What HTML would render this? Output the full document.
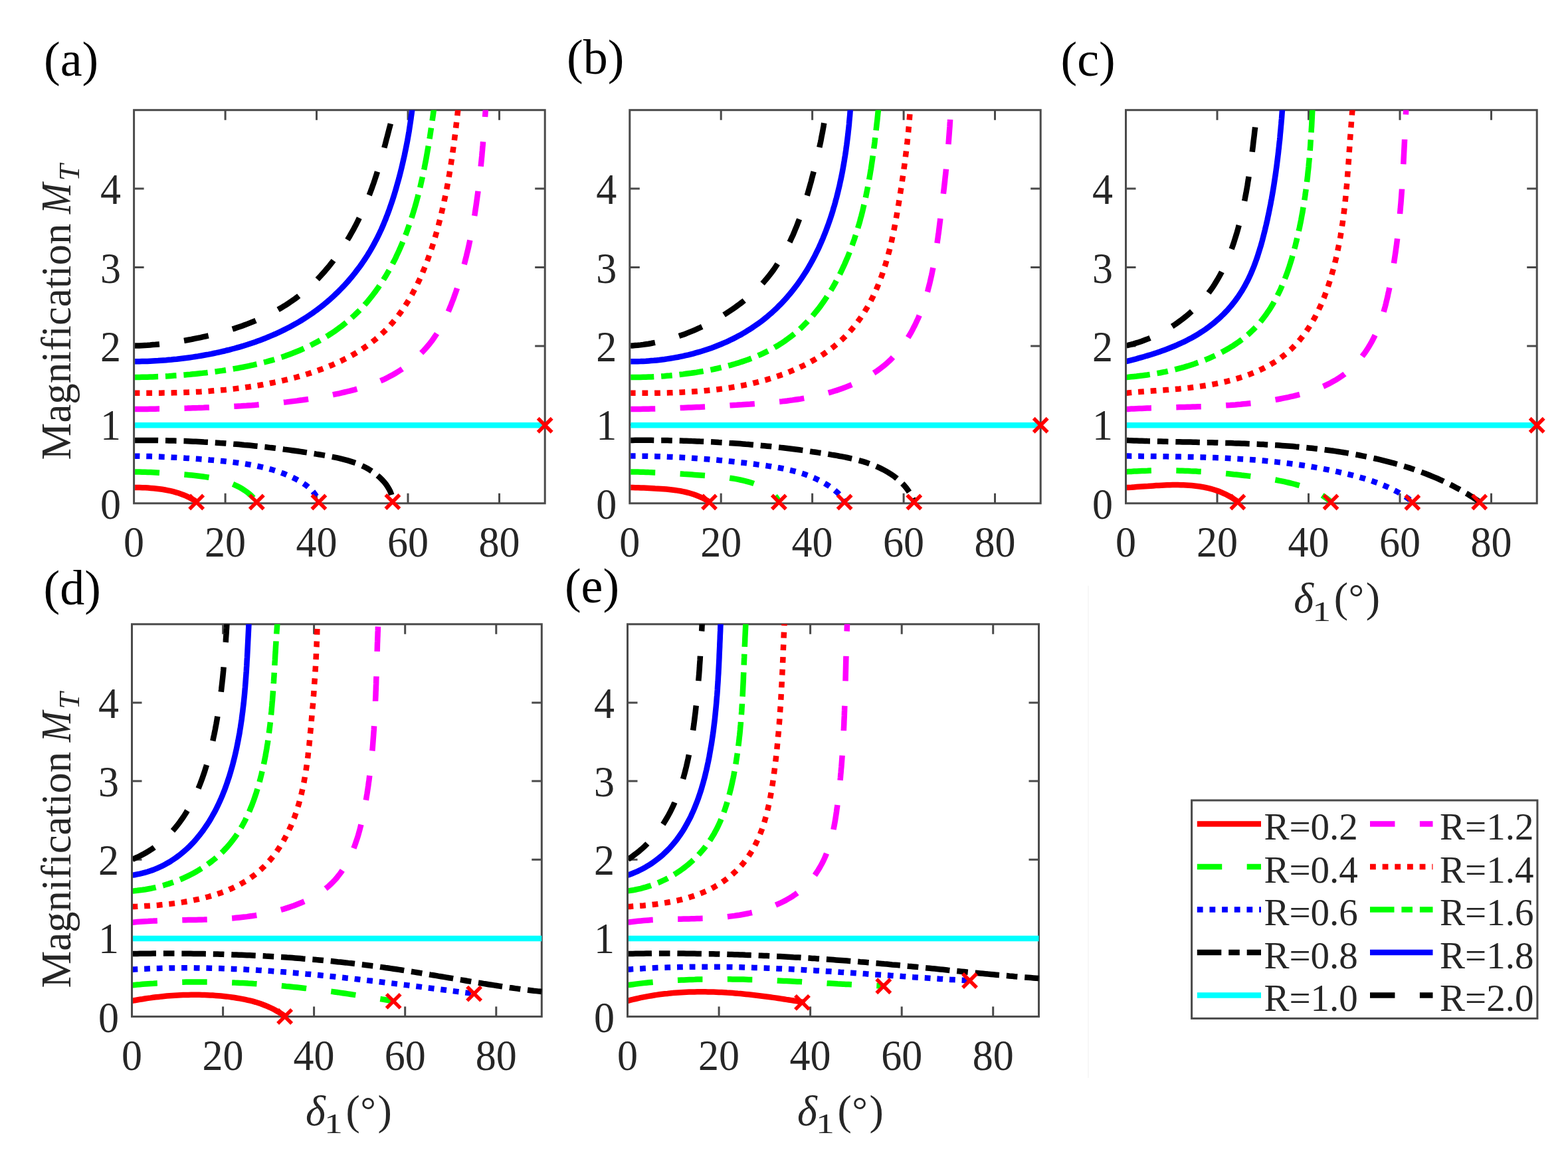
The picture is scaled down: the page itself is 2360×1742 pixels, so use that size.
<!DOCTYPE html>
<html><head><meta charset="utf-8"><title>Magnification vs delta1</title>
<style>html,body{margin:0;padding:0;background:#fff;width:2360px;height:1742px;overflow:hidden}svg{display:block}text{font-family:"Liberation Serif","Times New Roman",serif}</style>
</head><body>
<svg width="2360" height="1742" viewBox="0 0 2360 1742">
<rect width="2360" height="1742" fill="#fff"/>
<path d="M1638 882V1623" stroke="#f4f4f4" stroke-width="1.5"/>
<clipPath id="clipa"><rect x="203.1" y="165.7" width="623.1" height="604.1"/></clipPath>
<rect x="201.6" y="165.7" width="618.6" height="592.1" fill="none" stroke="#4a4a4a" stroke-width="3"/>
<path d="M339.1 757.8V742.8M339.1 165.7V180.7M476.5 757.8V742.8M476.5 165.7V180.7M614 757.8V742.8M614 165.7V180.7M751.5 757.8V742.8M751.5 165.7V180.7M201.6 639.4H216.6M820.2 639.4H805.2M201.6 521H216.6M820.2 521H805.2M201.6 402.5H216.6M820.2 402.5H805.2M201.6 284.1H216.6M820.2 284.1H805.2" stroke="#4a4a4a" stroke-width="3" fill="none"/>
<g clip-path="url(#clipa)" fill="none" stroke-width="8.5" stroke-linejoin="miter">
<path d="M201.6 734.1L205.9 734.1L210.1 734.1L214.4 734.2L218.6 734.3L222.9 734.6L227.1 734.9L231.4 735.2L235.6 735.7L239.9 736.2L244.1 736.8L248.3 737.5L252.5 738.3L256.6 739.2L260.8 740.2L264.9 741.3L269.0 742.5L273.0 743.9L277.0 745.4L280.9 747.1L284.7 749.0L288.5 751.0L292.2 753.1L295.7 755.5" stroke="#ff0000" stroke-linecap="round"/>
<path d="M201.6 710.4L205.8 710.5L209.9 710.5L214.1 710.7L218.3 710.8L222.4 710.9L226.6 711.1L230.8 711.3L234.9 711.5L239.1 711.7L243.3 712.0L247.4 712.2L251.6 712.5L255.7 712.8L259.9 713.1L264.0 713.4L268.2 713.8L272.4 714.1L276.5 714.5L280.7 714.8L284.8 715.2L289.0 715.6L293.1 716.0L297.3 716.5L301.4 717.0L305.5 717.5L309.7 718.1L313.8 718.8L317.9 719.5L322.0 720.3L326.0 721.2L330.1 722.1L334.1 723.2L338.1 724.4L342.1 725.7L346.0 727.1L349.9 728.6L353.7 730.3L357.5 732.1L361.2 734.0L364.8 736.1L368.3 738.4L371.7 740.8L374.9 743.4L378.1 746.1L381.0 749.1L383.8 752.2L386.3 755.5" stroke="#00ff00" stroke-dasharray="37.45 37.45" stroke-dashoffset="-1"/>
<path d="M201.6 686.6L205.7 686.7L209.8 686.7L213.8 686.8L217.9 686.9L222.0 687.0L226.1 687.1L230.2 687.2L234.2 687.4L238.3 687.5L242.4 687.7L246.5 687.9L250.5 688.0L254.6 688.2L258.7 688.5L262.8 688.7L266.8 688.9L270.9 689.1L275.0 689.4L279.1 689.7L283.1 689.9L287.2 690.2L291.3 690.5L295.3 690.8L299.4 691.1L303.5 691.5L307.5 691.8L311.6 692.1L315.7 692.5L319.7 692.8L323.8 693.2L327.9 693.5L331.9 693.9L336.0 694.3L340.0 694.7L344.1 695.2L348.2 695.6L352.2 696.1L356.3 696.6L360.3 697.2L364.3 697.7L368.4 698.3L372.4 699.0L376.4 699.6L380.4 700.4L384.5 701.1L388.4 702.0L392.4 702.8L396.4 703.7L400.4 704.7L404.3 705.7L408.3 706.8L412.2 708.0L416.1 709.2L419.9 710.5L423.8 711.9L427.6 713.3L431.4 714.9L435.1 716.5L438.8 718.1L442.5 719.9L446.2 721.8L449.7 723.7L453.3 725.7L456.7 727.9L460.1 730.2L463.3 732.7L466.4 735.4L469.3 738.2L472.0 741.3L474.4 744.6L476.6 748.1L478.4 751.7L479.9 755.5" stroke="#0000ff" stroke-dasharray="8.8 9.86"/>
<path d="M201.6 662.9L205.7 662.9L209.7 662.9L213.8 662.9L217.8 662.9L221.9 662.9L225.9 662.9L230.0 663.0L234.0 663.0L238.1 663.1L242.1 663.1L246.2 663.2L250.2 663.3L254.3 663.4L258.3 663.5L262.4 663.6L266.4 663.7L270.5 663.9L274.5 664.0L278.6 664.1L282.6 664.3L286.7 664.5L290.7 664.7L294.8 664.8L298.8 665.0L302.9 665.2L306.9 665.5L311.0 665.7L315.0 665.9L319.1 666.2L323.1 666.4L327.2 666.7L331.2 667.0L335.3 667.2L339.3 667.5L343.3 667.8L347.4 668.1L351.4 668.5L355.5 668.8L359.5 669.1L363.5 669.5L367.6 669.9L371.6 670.2L375.7 670.6L379.7 671.0L383.7 671.4L387.8 671.8L391.8 672.3L395.8 672.7L399.8 673.1L403.9 673.6L407.9 674.1L411.9 674.5L415.9 675.0L420.0 675.5L424.0 676.0L428.0 676.6L432.0 677.1L436.0 677.6L440.1 678.2L444.1 678.7L448.1 679.3L452.1 679.9L456.1 680.5L460.1 681.1L464.1 681.7L468.1 682.3L472.1 682.9L476.1 683.6L480.1 684.2L484.1 684.9L488.1 685.6L492.1 686.3L496.1 687.0L500.1 687.8L504.1 688.6L508.0 689.4L512.0 690.3L515.9 691.3L519.8 692.3L523.7 693.4L527.6 694.6L531.5 695.9L535.3 697.2L539.1 698.7L542.8 700.3L546.5 702.0L550.1 703.8L553.7 705.7L557.1 707.8L560.5 710.0L563.8 712.4L567.0 714.9L570.1 717.5L573.1 720.3L575.9 723.2L578.6 726.2L581.1 729.4L583.4 732.7L585.5 736.2L587.3 739.8L588.8 743.6L589.9 747.5L590.7 751.5L591.0 755.5" stroke="#000000" stroke-dasharray="36.5 10.9 16.6 10.9"/>
<path d="M201.6 640.2L820.2 640.2" stroke="#00ffff"/>
<path d="M201.6 616.1L205.6 616.1L209.7 616.0L213.7 616.0L217.7 616.0L221.8 615.9L225.8 615.8L229.8 615.8L233.9 615.7L237.9 615.6L241.9 615.6L246.0 615.5L250.0 615.4L254.0 615.3L258.1 615.2L262.1 615.1L266.1 615.0L270.1 614.9L274.2 614.8L278.2 614.7L282.2 614.6L286.3 614.4L290.3 614.3L294.3 614.2L298.4 614.1L302.4 613.9L306.4 613.8L310.5 613.6L314.5 613.5L318.5 613.3L322.5 613.2L326.6 613.0L330.6 612.8L334.6 612.7L338.7 612.5L342.7 612.3L346.7 612.1L350.7 611.9L354.8 611.7L358.8 611.4L362.8 611.2L366.8 610.9L370.9 610.7L374.9 610.4L378.9 610.2L382.9 609.9L387.0 609.6L391.0 609.2L395.0 608.9L399.0 608.6L403.0 608.2L407.1 607.9L411.1 607.5L415.1 607.1L419.1 606.7L423.1 606.3L427.1 605.8L431.1 605.4L435.1 604.9L439.1 604.4L443.1 603.9L447.1 603.4L451.1 602.8L455.1 602.3L459.1 601.7L463.1 601.1L467.1 600.5L471.1 599.8L475.0 599.2L479.0 598.5L483.0 597.8L487.0 597.1L490.9 596.3L494.9 595.6L498.8 594.8L502.8 593.9L506.7 593.1L510.7 592.3L514.6 591.4L518.5 590.5L522.5 589.5L526.4 588.6L530.3 587.6L534.2 586.6L538.1 585.5L542.0 584.4L545.8 583.2L549.7 582.0L553.5 580.8L557.3 579.5L561.1 578.1L564.9 576.7L568.6 575.2L572.3 573.6L576.0 572.0L579.7 570.3L583.3 568.5L586.9 566.6L590.4 564.7L593.9 562.7L597.4 560.6L600.8 558.5L604.2 556.3L607.5 554.0L610.8 551.6L614.0 549.2L617.2 546.8L620.3 544.2L623.4 541.6L626.4 538.9L629.4 536.2L632.3 533.4L635.1 530.5L637.9 527.6L640.6 524.6L643.2 521.6L645.8 518.5L648.3 515.3L650.8 512.1L653.1 508.8L655.4 505.5L657.6 502.1L659.8 498.7L661.8 495.2L663.8 491.7L665.7 488.2L667.6 484.6L669.3 481.0L671.1 477.3L672.7 473.7L674.4 470.0L675.9 466.3L677.5 462.5L679.0 458.8L680.4 455.0L681.9 451.3L683.3 447.5L684.6 443.7L686.0 439.9L687.3 436.1L688.6 432.2L689.8 428.4L691.0 424.6L692.2 420.7L693.4 416.9L694.6 413.0L695.7 409.1L696.8 405.2L697.9 401.3L698.9 397.5L699.9 393.6L700.9 389.6L701.9 385.7L702.8 381.8L703.8 377.9L704.7 374.0L705.6 370.0L706.4 366.1L707.3 362.1L708.1 358.2L708.9 354.2L709.6 350.3L710.4 346.3L711.1 342.4L711.9 338.4L712.6 334.4L713.2 330.4L713.9 326.5L714.6 322.5L715.2 318.5L715.8 314.5L716.4 310.5L717.0 306.5L717.5 302.5L718.1 298.5L718.6 294.5L719.2 290.5L719.7 286.5L720.2 282.5L720.7 278.5L721.1 274.5L721.6 270.5L722.0 266.5L722.5 262.5L722.9 258.5L723.3 254.5L723.7 250.5L724.1 246.5L724.5 242.5L724.9 238.4L725.3 234.4L725.6 230.4L726.0 226.4L726.3 222.4L726.7 218.4L727.0 214.3L727.4 210.3L727.7 206.3L728.0 202.3L728.3 198.3L728.7 194.2L729.0 190.2L729.3 186.2L729.6 182.2L729.9 178.2L730.2 174.1L730.5 170.1L730.8 166.1L731.1 162.1L731.4 158.0L731.7 154.0L732.0 150.0" stroke="#ff00ff" stroke-dasharray="37.45 37.45" stroke-dashoffset="-1"/>
<path d="M201.6 591.8L205.6 591.8L209.7 591.8L213.7 591.8L217.7 591.8L221.8 591.8L225.8 591.8L229.8 591.8L233.9 591.8L237.9 591.7L242.0 591.7L246.0 591.6L250.0 591.6L254.1 591.5L258.1 591.4L262.1 591.3L266.2 591.2L270.2 591.1L274.2 591.0L278.3 590.8L282.3 590.7L286.3 590.5L290.4 590.3L294.4 590.1L298.4 589.9L302.4 589.7L306.5 589.4L310.5 589.2L314.5 588.9L318.5 588.6L322.6 588.3L326.6 588.0L330.6 587.6L334.6 587.2L338.6 586.9L342.7 586.5L346.7 586.0L350.7 585.6L354.7 585.1L358.7 584.6L362.7 584.1L366.7 583.6L370.7 583.0L374.7 582.5L378.7 581.9L382.7 581.3L386.7 580.6L390.6 580.0L394.6 579.3L398.6 578.5L402.5 577.8L406.5 577.0L410.5 576.3L414.4 575.4L418.4 574.6L422.3 573.7L426.2 572.8L430.2 571.9L434.1 571.0L438.0 570.0L441.9 569.0L445.8 568.0L449.7 566.9L453.6 565.8L457.5 564.7L461.3 563.5L465.2 562.3L469.0 561.0L472.8 559.8L476.7 558.5L480.5 557.1L484.3 555.7L488.0 554.3L491.8 552.8L495.5 551.3L499.3 549.8L503.0 548.2L506.6 546.5L510.3 544.8L514.0 543.1L517.6 541.3L521.2 539.5L524.7 537.6L528.3 535.7L531.8 533.7L535.3 531.7L538.8 529.6L542.2 527.5L545.6 525.3L548.9 523.0L552.2 520.7L555.5 518.4L558.7 516.0L561.9 513.5L565.1 511.0L568.2 508.4L571.2 505.7L574.2 503.0L577.1 500.3L580.0 497.4L582.9 494.6L585.6 491.6L588.3 488.6L591.0 485.6L593.6 482.5L596.1 479.4L598.6 476.2L601.0 473.0L603.4 469.7L605.7 466.4L608.0 463.1L610.2 459.7L612.4 456.3L614.5 452.9L616.6 449.4L618.6 445.9L620.6 442.4L622.5 438.8L624.4 435.3L626.2 431.7L628.0 428.1L629.8 424.4L631.5 420.8L633.1 417.1L634.8 413.4L636.3 409.7L637.9 406.0L639.4 402.2L640.9 398.5L642.4 394.7L643.8 390.9L645.1 387.1L646.5 383.3L647.8 379.5L649.1 375.7L650.4 371.9L651.6 368.0L652.8 364.2L654.0 360.3L655.1 356.4L656.2 352.6L657.3 348.7L658.4 344.8L659.5 340.9L660.5 337.0L661.5 333.1L662.5 329.2L663.5 325.3L664.4 321.3L665.3 317.4L666.2 313.5L667.1 309.5L668.0 305.6L668.8 301.7L669.7 297.7L670.5 293.8L671.3 289.8L672.1 285.8L672.8 281.9L673.6 277.9L674.3 273.9L675.0 270.0L675.7 266.0L676.4 262.0L677.0 258.0L677.7 254.0L678.3 250.1L678.9 246.1L679.5 242.1L680.1 238.1L680.7 234.1L681.3 230.1L681.8 226.1L682.4 222.1L682.9 218.1L683.5 214.1L684.0 210.1L684.5 206.1L685.0 202.1L685.5 198.1L686.0 194.1L686.4 190.1L686.9 186.1L687.4 182.1L687.9 178.1L688.3 174.1L688.8 170.1L689.2 166.0L689.7 162.0L690.1 158.0L690.6 154.0L691.0 150.0" stroke="#ff0000" stroke-dasharray="8.8 9.86"/>
<path d="M201.6 568.0L205.6 568.0L209.7 567.9L213.7 567.8L217.7 567.8L221.8 567.7L225.8 567.5L229.8 567.4L233.9 567.2L237.9 567.0L241.9 566.9L246.0 566.6L250.0 566.4L254.0 566.2L258.0 565.9L262.1 565.6L266.1 565.4L270.1 565.0L274.1 564.7L278.2 564.4L282.2 564.0L286.2 563.7L290.2 563.3L294.2 562.9L298.3 562.5L302.3 562.1L306.3 561.6L310.3 561.2L314.3 560.7L318.3 560.2L322.3 559.7L326.3 559.2L330.3 558.6L334.3 558.1L338.3 557.5L342.3 556.9L346.3 556.2L350.2 555.6L354.2 554.9L358.2 554.2L362.2 553.4L366.1 552.7L370.1 551.9L374.0 551.1L378.0 550.2L381.9 549.4L385.9 548.4L389.8 547.5L393.7 546.5L397.6 545.5L401.5 544.5L405.4 543.4L409.3 542.3L413.1 541.2L417.0 540.0L420.8 538.7L424.7 537.5L428.5 536.2L432.3 534.8L436.1 533.4L439.9 532.0L443.6 530.5L447.4 529.0L451.1 527.5L454.8 525.9L458.5 524.2L462.1 522.5L465.8 520.8L469.4 519.0L473.0 517.1L476.5 515.2L480.1 513.3L483.6 511.3L487.1 509.3L490.5 507.2L494.0 505.1L497.4 502.9L500.7 500.7L504.1 498.4L507.4 496.1L510.6 493.7L513.8 491.3L517.0 488.8L520.2 486.3L523.3 483.7L526.4 481.1L529.4 478.4L532.4 475.7L535.3 472.9L538.2 470.1L541.1 467.3L543.9 464.4L546.6 461.4L549.3 458.4L552.0 455.4L554.6 452.3L557.1 449.2L559.7 446.0L562.1 442.8L564.5 439.6L566.9 436.3L569.3 433.0L571.5 429.7L573.8 426.4L576.0 423.0L578.1 419.6L580.3 416.1L582.3 412.7L584.3 409.2L586.3 405.7L588.3 402.1L590.2 398.6L592.0 395.0L593.9 391.4L595.7 387.8L597.4 384.1L599.1 380.5L600.8 376.8L602.4 373.1L604.0 369.4L605.6 365.7L607.1 362.0L608.7 358.2L610.1 354.5L611.6 350.7L613.0 346.9L614.3 343.1L615.7 339.3L617.0 335.5L618.3 331.7L619.5 327.8L620.8 324.0L622.0 320.1L623.1 316.3L624.3 312.4L625.4 308.5L626.5 304.6L627.5 300.8L628.6 296.9L629.6 293.0L630.6 289.0L631.6 285.1L632.5 281.2L633.4 277.3L634.3 273.3L635.2 269.4L636.1 265.5L636.9 261.5L637.7 257.6L638.6 253.6L639.3 249.7L640.1 245.7L640.9 241.7L641.6 237.8L642.3 233.8L643.0 229.8L643.7 225.8L644.4 221.9L645.1 217.9L645.7 213.9L646.3 209.9L647.0 205.9L647.6 201.9L648.2 197.9L648.8 194.0L649.4 190.0L650.0 186.0L650.6 182.0L651.1 178.0L651.7 174.0L652.3 170.0L652.8 166.0L653.4 162.0L653.9 158.0L654.5 154.0L655.0 150.0" stroke="#00ff00" stroke-dasharray="36.5 10.9 16.6 10.9"/>
<path d="M201.6 544.3L205.6 544.3L209.7 544.2L213.7 544.1L217.7 544.0L221.8 543.9L225.8 543.7L229.8 543.5L233.9 543.3L237.9 543.1L241.9 542.8L245.9 542.5L250.0 542.2L254.0 541.8L258.0 541.5L262.0 541.1L266.0 540.7L270.0 540.2L274.0 539.7L278.1 539.2L282.1 538.7L286.0 538.2L290.0 537.6L294.0 537.0L298.0 536.4L302.0 535.7L306.0 535.0L309.9 534.3L313.9 533.6L317.9 532.8L321.8 532.0L325.8 531.2L329.7 530.3L333.7 529.4L337.6 528.5L341.5 527.5L345.4 526.6L349.3 525.5L353.2 524.5L357.1 523.4L361.0 522.3L364.9 521.2L368.7 520.0L372.6 518.8L376.4 517.5L380.2 516.2L384.0 514.9L387.8 513.5L391.6 512.2L395.4 510.7L399.2 509.3L402.9 507.7L406.6 506.2L410.3 504.6L414.0 503.0L417.7 501.3L421.4 499.6L425.0 497.9L428.6 496.1L432.2 494.3L435.8 492.4L439.4 490.5L442.9 488.6L446.4 486.6L449.9 484.6L453.4 482.5L456.8 480.4L460.2 478.2L463.6 476.0L466.9 473.8L470.3 471.5L473.5 469.1L476.8 466.8L480.0 464.3L483.2 461.9L486.4 459.4L489.5 456.8L492.6 454.2L495.7 451.6L498.7 448.9L501.7 446.2L504.6 443.4L507.5 440.6L510.4 437.8L513.2 434.9L516.0 432.0L518.8 429.1L521.5 426.1L524.2 423.1L526.8 420.0L529.4 416.9L531.9 413.8L534.5 410.6L536.9 407.4L539.4 404.2L541.8 401.0L544.1 397.7L546.4 394.4L548.7 391.0L550.9 387.7L553.1 384.3L555.2 380.8L557.3 377.4L559.3 373.9L561.3 370.4L563.2 366.9L565.1 363.3L567.0 359.7L568.8 356.1L570.6 352.5L572.3 348.8L574.0 345.2L575.6 341.5L577.2 337.8L578.7 334.0L580.3 330.3L581.7 326.5L583.2 322.8L584.6 319.0L586.0 315.2L587.3 311.4L588.6 307.6L589.9 303.8L591.2 299.9L592.4 296.1L593.6 292.2L594.8 288.4L595.9 284.5L597.0 280.6L598.1 276.7L599.2 272.9L600.3 269.0L601.3 265.1L602.3 261.2L603.3 257.2L604.3 253.3L605.2 249.4L606.1 245.5L607.0 241.5L607.9 237.6L608.8 233.7L609.6 229.7L610.4 225.8L611.2 221.8L612.0 217.8L612.8 213.9L613.5 209.9L614.2 205.9L614.9 202.0L615.6 198.0L616.2 194.0L616.8 190.0L617.4 186.0L618.0 182.0L618.6 178.0L619.1 174.0L619.7 170.0L620.2 166.0L620.7 162.0L621.1 158.0L621.6 154.0L622.0 150.0" stroke="#0000ff" stroke-linecap="round"/>
<path d="M201.6 520.6L205.7 520.5L209.7 520.4L213.8 520.2L217.8 520.0L221.8 519.8L225.9 519.5L229.9 519.1L234.0 518.8L238.0 518.4L242.0 518.0L246.1 517.5L250.1 517.0L254.1 516.5L258.1 515.9L262.1 515.3L266.1 514.7L270.1 514.1L274.1 513.4L278.1 512.7L282.1 512.0L286.1 511.3L290.1 510.5L294.0 509.7L298.0 508.9L302.0 508.1L305.9 507.2L309.9 506.3L313.8 505.4L317.8 504.5L321.7 503.5L325.6 502.5L329.6 501.5L333.5 500.4L337.4 499.3L341.3 498.2L345.1 497.0L349.0 495.8L352.9 494.6L356.7 493.3L360.6 492.0L364.4 490.7L368.2 489.3L372.0 487.9L375.8 486.4L379.5 484.9L383.3 483.4L387.0 481.8L390.7 480.2L394.4 478.5L398.1 476.8L401.8 475.0L405.4 473.2L409.0 471.4L412.6 469.5L416.1 467.5L419.7 465.5L423.2 463.5L426.6 461.4L430.1 459.3L433.5 457.1L436.9 454.8L440.2 452.5L443.5 450.2L446.8 447.8L450.0 445.3L453.2 442.8L456.3 440.3L459.4 437.7L462.5 435.0L465.5 432.3L468.5 429.6L471.4 426.8L474.3 423.9L477.2 421.1L480.0 418.1L482.8 415.2L485.5 412.2L488.2 409.2L490.8 406.1L493.4 403.0L496.0 399.9L498.5 396.7L501.0 393.5L503.4 390.2L505.9 387.0L508.2 383.7L510.5 380.4L512.8 377.0L515.1 373.7L517.3 370.3L519.5 366.9L521.6 363.4L523.7 359.9L525.8 356.5L527.8 352.9L529.8 349.4L531.8 345.9L533.7 342.3L535.6 338.7L537.4 335.1L539.2 331.5L541.0 327.8L542.7 324.2L544.5 320.5L546.1 316.8L547.8 313.1L549.4 309.4L551.0 305.7L552.5 301.9L554.0 298.2L555.5 294.4L557.0 290.6L558.4 286.8L559.8 283.0L561.1 279.2L562.5 275.4L563.8 271.5L565.0 267.7L566.3 263.8L567.5 260.0L568.7 256.1L569.9 252.2L571.0 248.3L572.2 244.4L573.3 240.5L574.4 236.6L575.5 232.7L576.6 228.8L577.7 224.9L578.7 221.0L579.8 217.1L580.8 213.2L581.8 209.3L582.9 205.3L583.9 201.4L584.9 197.5L585.9 193.6L587.0 189.7L588.0 185.7L589.0 181.8L590.0 177.9L591.0 174.0L591.9 170.0L592.7 166.0L593.5 162.1L594.1 158.1L594.6 154.0L595.0 150.0" stroke="#000000" stroke-dasharray="37.45 37.45" stroke-dashoffset="-1"/>
</g>
<path d="M285.2 745.5L306.2 766.5M285.2 766.5L306.2 745.5M375.8 745.5L396.8 766.5M375.8 766.5L396.8 745.5M469.4 745.5L490.4 766.5M469.4 766.5L490.4 745.5M580.4 745L601.4 766M580.4 766L601.4 745M809.7 629.7L830.7 650.7M809.7 650.7L830.7 629.7" stroke="#ff0000" stroke-width="5.5" stroke-linecap="butt" fill="none"/>
<clipPath id="clipb"><rect x="949.3" y="165.7" width="622.9" height="604.1"/></clipPath>
<rect x="947.8" y="165.7" width="618.4" height="592.1" fill="none" stroke="#4a4a4a" stroke-width="3"/>
<path d="M1085.2 757.8V742.8M1085.2 165.7V180.7M1222.6 757.8V742.8M1222.6 165.7V180.7M1360.1 757.8V742.8M1360.1 165.7V180.7M1497.5 757.8V742.8M1497.5 165.7V180.7M947.8 639.4H962.8M1566.2 639.4H1551.2M947.8 521H962.8M1566.2 521H1551.2M947.8 402.5H962.8M1566.2 402.5H1551.2M947.8 284.1H962.8M1566.2 284.1H1551.2" stroke="#4a4a4a" stroke-width="3" fill="none"/>
<g clip-path="url(#clipb)" fill="none" stroke-width="8.5" stroke-linejoin="miter">
<path d="M947.8 734.1L952.0 734.1L956.3 734.2L960.5 734.3L964.8 734.5L969.0 734.6L973.3 734.8L977.5 735.0L981.8 735.2L986.0 735.5L990.2 735.7L994.5 736.0L998.7 736.3L1002.9 736.6L1007.2 737.0L1011.4 737.5L1015.6 738.0L1019.8 738.6L1024.0 739.3L1028.2 740.1L1032.3 741.0L1036.5 742.0L1040.5 743.2L1044.6 744.5L1048.6 746.0L1052.5 747.6L1056.4 749.3L1060.2 751.2L1063.9 753.3L1067.5 755.5" stroke="#ff0000" stroke-linecap="round"/>
<path d="M947.8 710.4L951.9 710.4L955.9 710.5L960.0 710.6L964.1 710.7L968.2 710.8L972.2 710.9L976.3 711.1L980.4 711.2L984.4 711.4L988.5 711.5L992.6 711.7L996.6 711.9L1000.7 712.1L1004.8 712.3L1008.8 712.5L1012.9 712.8L1017.0 713.0L1021.0 713.3L1025.1 713.5L1029.1 713.8L1033.2 714.0L1037.3 714.3L1041.3 714.6L1045.4 714.9L1049.5 715.2L1053.5 715.5L1057.6 715.8L1061.6 716.1L1065.7 716.4L1069.8 716.7L1073.8 717.0L1077.9 717.4L1081.9 717.8L1086.0 718.2L1090.0 718.7L1094.1 719.1L1098.1 719.7L1102.1 720.3L1106.1 720.9L1110.1 721.7L1114.1 722.5L1118.1 723.4L1122.1 724.3L1126.0 725.4L1129.9 726.5L1133.8 727.8L1137.6 729.2L1141.4 730.7L1145.1 732.3L1148.8 734.1L1152.4 735.9L1155.9 738.0L1159.3 740.2L1162.6 742.7L1165.5 745.5L1168.2 748.5L1170.5 751.9L1172.4 755.5" stroke="#00ff00" stroke-dasharray="37.45 37.45" stroke-dashoffset="-1"/>
<path d="M947.8 686.6L951.9 686.6L956.0 686.6L960.1 686.6L964.2 686.7L968.3 686.7L972.4 686.8L976.5 686.9L980.6 687.0L984.7 687.1L988.7 687.2L992.8 687.3L996.9 687.4L1001.0 687.6L1005.1 687.8L1009.2 687.9L1013.3 688.1L1017.4 688.3L1021.5 688.5L1025.6 688.7L1029.7 689.0L1033.7 689.2L1037.8 689.4L1041.9 689.7L1046.0 690.0L1050.1 690.3L1054.2 690.6L1058.3 690.9L1062.3 691.2L1066.4 691.5L1070.5 691.9L1074.6 692.2L1078.7 692.6L1082.7 693.0L1086.8 693.3L1090.9 693.7L1095.0 694.1L1099.0 694.6L1103.1 695.0L1107.2 695.4L1111.3 695.9L1115.3 696.4L1119.4 696.8L1123.5 697.3L1127.5 697.8L1131.6 698.3L1135.6 698.8L1139.7 699.4L1143.8 699.9L1147.8 700.5L1151.9 701.0L1155.9 701.6L1160.0 702.2L1164.0 702.9L1168.1 703.6L1172.1 704.3L1176.1 705.0L1180.1 705.8L1184.1 706.7L1188.1 707.6L1192.1 708.5L1196.1 709.6L1200.0 710.6L1204.0 711.8L1207.9 713.0L1211.8 714.3L1215.6 715.7L1219.4 717.2L1223.2 718.7L1227.0 720.3L1230.7 722.1L1234.4 723.9L1238.0 725.8L1241.5 727.9L1245.0 730.0L1248.5 732.2L1251.8 734.6L1255.1 737.0L1258.2 739.7L1261.2 742.4L1264.0 745.4L1266.6 748.6L1269.0 751.9L1271.0 755.5" stroke="#0000ff" stroke-dasharray="8.8 9.86"/>
<path d="M947.8 662.9L951.9 662.9L955.9 662.8L960.0 662.8L964.0 662.8L968.1 662.8L972.2 662.8L976.2 662.8L980.3 662.8L984.4 662.9L988.4 662.9L992.5 663.0L996.5 663.0L1000.6 663.1L1004.7 663.1L1008.7 663.2L1012.8 663.3L1016.8 663.4L1020.9 663.5L1025.0 663.6L1029.0 663.7L1033.1 663.8L1037.2 663.9L1041.2 664.1L1045.3 664.2L1049.3 664.4L1053.4 664.6L1057.4 664.7L1061.5 664.9L1065.6 665.1L1069.6 665.3L1073.7 665.5L1077.7 665.7L1081.8 666.0L1085.8 666.2L1089.9 666.4L1094.0 666.7L1098.0 667.0L1102.1 667.2L1106.1 667.5L1110.2 667.8L1114.2 668.1L1118.3 668.4L1122.3 668.8L1126.4 669.1L1130.4 669.4L1134.5 669.8L1138.5 670.1L1142.5 670.5L1146.6 670.9L1150.6 671.3L1154.7 671.7L1158.7 672.1L1162.8 672.5L1166.8 673.0L1170.8 673.4L1174.9 673.9L1178.9 674.3L1182.9 674.8L1187.0 675.3L1191.0 675.8L1195.0 676.3L1199.1 676.8L1203.1 677.3L1207.1 677.9L1211.1 678.4L1215.2 679.0L1219.2 679.6L1223.2 680.2L1227.2 680.7L1231.2 681.4L1235.3 682.0L1239.3 682.6L1243.3 683.2L1247.3 683.9L1251.3 684.6L1255.3 685.2L1259.3 685.9L1263.3 686.7L1267.3 687.4L1271.3 688.2L1275.3 689.0L1279.2 689.9L1283.2 690.8L1287.1 691.7L1291.1 692.7L1295.0 693.8L1298.9 694.9L1302.8 696.1L1306.6 697.4L1310.4 698.8L1314.2 700.2L1318.0 701.8L1321.7 703.4L1325.4 705.1L1329.0 706.9L1332.6 708.9L1336.1 710.9L1339.6 713.0L1343.0 715.3L1346.3 717.6L1349.5 720.1L1352.6 722.7L1355.6 725.4L1358.5 728.3L1361.3 731.3L1363.9 734.4L1366.3 737.6L1368.6 741.0L1370.7 744.4L1372.6 748.0L1374.3 751.7L1375.8 755.5" stroke="#000000" stroke-dasharray="36.5 10.9 16.6 10.9"/>
<path d="M947.8 640.2L1566.2 640.2" stroke="#00ffff"/>
<path d="M947.8 616.1L951.8 616.1L955.9 616.0L959.9 616.0L963.9 615.9L967.9 615.8L972.0 615.7L976.0 615.7L980.0 615.6L984.0 615.5L988.1 615.4L992.1 615.2L996.1 615.1L1000.1 615.0L1004.2 614.9L1008.2 614.7L1012.2 614.6L1016.2 614.4L1020.3 614.3L1024.3 614.1L1028.3 614.0L1032.3 613.8L1036.3 613.6L1040.4 613.5L1044.4 613.3L1048.4 613.1L1052.4 612.9L1056.5 612.7L1060.5 612.5L1064.5 612.3L1068.5 612.1L1072.5 611.9L1076.6 611.6L1080.6 611.4L1084.6 611.2L1088.6 611.0L1092.6 610.7L1096.7 610.5L1100.7 610.2L1104.7 610.0L1108.7 609.8L1112.7 609.5L1116.8 609.3L1120.8 609.0L1124.8 608.7L1128.8 608.5L1132.8 608.2L1136.8 607.9L1140.9 607.6L1144.9 607.3L1148.9 607.0L1152.9 606.7L1156.9 606.4L1160.9 606.0L1164.9 605.6L1168.9 605.2L1172.9 604.8L1177.0 604.4L1181.0 603.9L1184.9 603.5L1188.9 602.9L1192.9 602.4L1196.9 601.8L1200.9 601.2L1204.9 600.6L1208.8 599.9L1212.8 599.2L1216.8 598.5L1220.7 597.7L1224.7 596.9L1228.6 596.1L1232.5 595.2L1236.4 594.2L1240.3 593.2L1244.2 592.2L1248.1 591.1L1252.0 590.0L1255.8 588.8L1259.7 587.6L1263.5 586.3L1267.3 584.9L1271.1 583.6L1274.8 582.1L1278.5 580.6L1282.3 579.0L1285.9 577.4L1289.6 575.7L1293.2 574.0L1296.8 572.2L1300.4 570.3L1303.9 568.4L1307.4 566.4L1310.9 564.3L1314.3 562.2L1317.6 560.0L1321.0 557.7L1324.2 555.3L1327.4 552.9L1330.6 550.4L1333.7 547.8L1336.7 545.1L1339.6 542.4L1342.5 539.5L1345.3 536.6L1348.0 533.7L1350.6 530.6L1353.2 527.5L1355.6 524.3L1358.0 521.1L1360.4 517.8L1362.7 514.5L1364.9 511.1L1367.0 507.7L1369.1 504.3L1371.1 500.8L1373.1 497.3L1374.9 493.7L1376.8 490.1L1378.5 486.5L1380.2 482.8L1381.9 479.2L1383.5 475.5L1385.0 471.7L1386.5 468.0L1387.9 464.2L1389.3 460.4L1390.6 456.6L1391.8 452.8L1393.1 449.0L1394.2 445.1L1395.4 441.3L1396.5 437.4L1397.5 433.5L1398.5 429.6L1399.5 425.7L1400.4 421.8L1401.3 417.8L1402.2 413.9L1403.0 410.0L1403.8 406.0L1404.6 402.1L1405.3 398.1L1406.0 394.2L1406.7 390.2L1407.4 386.2L1408.1 382.2L1408.7 378.3L1409.3 374.3L1409.9 370.3L1410.5 366.3L1411.0 362.3L1411.6 358.3L1412.1 354.4L1412.7 350.4L1413.2 346.4L1413.7 342.4L1414.2 338.4L1414.7 334.4L1415.2 330.4L1415.7 326.4L1416.2 322.4L1416.7 318.4L1417.2 314.4L1417.7 310.4L1418.1 306.4L1418.6 302.4L1419.1 298.4L1419.6 294.4L1420.0 290.4L1420.5 286.4L1421.0 282.4L1421.4 278.4L1421.9 274.4L1422.3 270.4L1422.7 266.4L1423.2 262.4L1423.6 258.4L1424.0 254.4L1424.4 250.4L1424.8 246.4L1425.2 242.4L1425.6 238.4L1426.0 234.4L1426.3 230.4L1426.7 226.3L1427.0 222.3L1427.4 218.3L1427.7 214.3L1428.0 210.3L1428.3 206.3L1428.6 202.3L1428.9 198.2L1429.2 194.2L1429.5 190.2L1429.7 186.2L1430.0 182.2L1430.2 178.2L1430.4 174.1L1430.6 170.1L1430.8 166.1L1431.0 162.1L1431.2 158.0L1431.4 154.0L1431.5 150.0" stroke="#ff00ff" stroke-dasharray="37.45 37.45" stroke-dashoffset="-1"/>
<path d="M947.8 591.8L951.8 591.8L955.9 591.8L959.9 591.8L963.9 591.8L967.9 591.8L972.0 591.8L976.0 591.8L980.0 591.8L984.1 591.8L988.1 591.7L992.1 591.7L996.1 591.6L1000.2 591.5L1004.2 591.4L1008.2 591.3L1012.2 591.2L1016.3 591.0L1020.3 590.9L1024.3 590.7L1028.3 590.5L1032.4 590.3L1036.4 590.1L1040.4 589.9L1044.4 589.6L1048.5 589.3L1052.5 589.0L1056.5 588.7L1060.5 588.3L1064.5 587.9L1068.5 587.5L1072.5 587.1L1076.5 586.7L1080.5 586.2L1084.5 585.7L1088.5 585.2L1092.5 584.6L1096.5 584.0L1100.5 583.4L1104.4 582.7L1108.4 582.1L1112.4 581.3L1116.3 580.6L1120.3 579.8L1124.2 579.0L1128.2 578.1L1132.1 577.3L1136.0 576.3L1139.9 575.4L1143.8 574.4L1147.7 573.3L1151.6 572.3L1155.5 571.1L1159.3 570.0L1163.2 568.8L1167.0 567.5L1170.8 566.3L1174.6 564.9L1178.4 563.6L1182.2 562.1L1186.0 560.7L1189.7 559.2L1193.4 557.6L1197.1 556.0L1200.8 554.4L1204.5 552.7L1208.1 551.0L1211.7 549.2L1215.3 547.4L1218.9 545.5L1222.4 543.5L1225.9 541.6L1229.4 539.5L1232.8 537.4L1236.2 535.3L1239.6 533.1L1242.9 530.8L1246.2 528.5L1249.5 526.1L1252.7 523.7L1255.8 521.2L1258.9 518.6L1262.0 516.0L1265.0 513.3L1268.0 510.6L1270.9 507.8L1273.7 504.9L1276.5 502.0L1279.2 499.0L1281.9 496.0L1284.4 492.9L1287.0 489.8L1289.4 486.6L1291.8 483.4L1294.2 480.1L1296.5 476.8L1298.7 473.4L1300.9 470.0L1303.0 466.6L1305.1 463.1L1307.1 459.6L1309.0 456.1L1310.9 452.6L1312.7 449.0L1314.5 445.4L1316.2 441.7L1317.9 438.1L1319.5 434.4L1321.1 430.7L1322.6 426.9L1324.1 423.2L1325.5 419.4L1326.9 415.6L1328.3 411.8L1329.5 408.0L1330.8 404.2L1332.0 400.4L1333.2 396.5L1334.3 392.6L1335.4 388.8L1336.5 384.9L1337.5 381.0L1338.6 377.1L1339.5 373.2L1340.5 369.3L1341.4 365.3L1342.3 361.4L1343.1 357.5L1344.0 353.5L1344.8 349.6L1345.6 345.6L1346.4 341.7L1347.1 337.7L1347.9 333.8L1348.6 329.8L1349.3 325.8L1350.0 321.9L1350.7 317.9L1351.4 313.9L1352.0 310.0L1352.7 306.0L1353.3 302.0L1354.0 298.0L1354.6 294.1L1355.2 290.1L1355.8 286.1L1356.5 282.1L1357.1 278.1L1357.7 274.1L1358.2 270.2L1358.8 266.2L1359.4 262.2L1360.0 258.2L1360.5 254.2L1361.1 250.2L1361.6 246.2L1362.1 242.2L1362.6 238.2L1363.1 234.2L1363.6 230.2L1364.1 226.2L1364.6 222.2L1365.0 218.2L1365.5 214.2L1365.9 210.2L1366.3 206.2L1366.8 202.2L1367.2 198.2L1367.5 194.2L1367.9 190.2L1368.3 186.2L1368.6 182.2L1368.9 178.1L1369.2 174.1L1369.5 170.1L1369.8 166.1L1370.1 162.1L1370.3 158.0L1370.6 154.0L1370.8 150.0" stroke="#ff0000" stroke-dasharray="8.8 9.86"/>
<path d="M947.8 568.0L951.8 568.0L955.9 568.0L959.9 568.0L963.9 567.9L968.0 567.8L972.0 567.7L976.0 567.5L980.1 567.4L984.1 567.2L988.1 567.0L992.2 566.7L996.2 566.4L1000.2 566.2L1004.2 565.8L1008.3 565.5L1012.3 565.1L1016.3 564.7L1020.3 564.3L1024.3 563.8L1028.3 563.4L1032.3 562.8L1036.3 562.3L1040.3 561.8L1044.3 561.2L1048.3 560.6L1052.3 559.9L1056.3 559.3L1060.3 558.6L1064.2 557.9L1068.2 557.1L1072.2 556.3L1076.1 555.5L1080.1 554.6L1084.0 553.7L1087.9 552.8L1091.8 551.8L1095.8 550.8L1099.6 549.8L1103.5 548.7L1107.4 547.5L1111.3 546.4L1115.1 545.1L1118.9 543.9L1122.8 542.6L1126.6 541.2L1130.3 539.8L1134.1 538.3L1137.8 536.8L1141.5 535.2L1145.2 533.6L1148.9 531.9L1152.5 530.1L1156.1 528.3L1159.7 526.4L1163.3 524.5L1166.8 522.5L1170.3 520.5L1173.7 518.4L1177.1 516.2L1180.5 513.9L1183.8 511.6L1187.0 509.2L1190.2 506.8L1193.4 504.3L1196.5 501.8L1199.6 499.1L1202.6 496.5L1205.6 493.8L1208.5 491.0L1211.4 488.1L1214.2 485.3L1217.0 482.3L1219.7 479.3L1222.4 476.3L1225.0 473.2L1227.6 470.1L1230.1 467.0L1232.6 463.8L1235.0 460.6L1237.4 457.3L1239.7 454.0L1242.0 450.7L1244.2 447.3L1246.4 443.9L1248.6 440.5L1250.7 437.1L1252.8 433.6L1254.8 430.1L1256.8 426.6L1258.7 423.0L1260.6 419.5L1262.5 415.9L1264.3 412.3L1266.1 408.7L1267.8 405.0L1269.5 401.4L1271.2 397.7L1272.8 394.0L1274.4 390.3L1276.0 386.6L1277.5 382.8L1279.0 379.1L1280.4 375.3L1281.8 371.5L1283.2 367.7L1284.5 363.9L1285.9 360.1L1287.1 356.3L1288.4 352.4L1289.6 348.6L1290.8 344.7L1291.9 340.9L1293.1 337.0L1294.2 333.1L1295.2 329.2L1296.3 325.3L1297.3 321.4L1298.3 317.5L1299.2 313.6L1300.1 309.6L1301.1 305.7L1301.9 301.8L1302.8 297.8L1303.6 293.9L1304.4 289.9L1305.2 286.0L1306.0 282.0L1306.8 278.0L1307.5 274.1L1308.2 270.1L1308.9 266.1L1309.6 262.1L1310.2 258.2L1310.9 254.2L1311.5 250.2L1312.1 246.2L1312.7 242.2L1313.3 238.2L1313.8 234.2L1314.4 230.2L1314.9 226.2L1315.4 222.2L1316.0 218.2L1316.5 214.2L1316.9 210.2L1317.4 206.2L1317.9 202.2L1318.4 198.2L1318.8 194.2L1319.3 190.1L1319.7 186.1L1320.2 182.1L1320.6 178.1L1321.0 174.1L1321.4 170.1L1321.9 166.1L1322.3 162.1L1322.7 158.0L1323.1 154.0L1323.5 150.0" stroke="#00ff00" stroke-dasharray="36.5 10.9 16.6 10.9"/>
<path d="M947.8 544.3L951.8 544.3L955.9 544.3L959.9 544.2L964.0 544.1L968.0 543.9L972.0 543.7L976.1 543.4L980.1 543.1L984.1 542.8L988.2 542.4L992.2 542.0L996.2 541.5L1000.2 541.0L1004.2 540.4L1008.2 539.8L1012.2 539.1L1016.2 538.4L1020.2 537.7L1024.1 536.9L1028.1 536.1L1032.0 535.2L1036.0 534.3L1039.9 533.3L1043.8 532.3L1047.7 531.2L1051.6 530.1L1055.5 529.0L1059.3 527.8L1063.2 526.5L1067.0 525.2L1070.8 523.9L1074.6 522.5L1078.4 521.0L1082.1 519.5L1085.9 518.0L1089.6 516.4L1093.3 514.8L1097.0 513.1L1100.6 511.3L1104.2 509.6L1107.8 507.7L1111.4 505.8L1115.0 503.9L1118.5 501.9L1122.0 499.8L1125.4 497.7L1128.8 495.6L1132.2 493.4L1135.6 491.1L1138.9 488.8L1142.2 486.5L1145.5 484.1L1148.7 481.6L1151.8 479.1L1155.0 476.5L1158.0 473.9L1161.1 471.3L1164.1 468.5L1167.0 465.8L1170.0 463.0L1172.8 460.1L1175.7 457.3L1178.4 454.3L1181.2 451.3L1183.9 448.3L1186.5 445.3L1189.1 442.2L1191.7 439.1L1194.2 435.9L1196.7 432.7L1199.1 429.5L1201.5 426.2L1203.8 422.9L1206.1 419.6L1208.4 416.2L1210.6 412.8L1212.7 409.4L1214.9 406.0L1216.9 402.5L1219.0 399.0L1220.9 395.5L1222.9 391.9L1224.8 388.4L1226.6 384.8L1228.4 381.1L1230.2 377.5L1232.0 373.9L1233.6 370.2L1235.3 366.5L1236.9 362.8L1238.5 359.1L1240.0 355.3L1241.5 351.6L1243.0 347.8L1244.4 344.0L1245.8 340.2L1247.2 336.4L1248.5 332.6L1249.8 328.8L1251.1 324.9L1252.3 321.1L1253.5 317.2L1254.6 313.3L1255.8 309.5L1256.9 305.6L1257.9 301.7L1259.0 297.8L1260.0 293.9L1261.0 289.9L1261.9 286.0L1262.9 282.1L1263.8 278.1L1264.6 274.2L1265.5 270.2L1266.3 266.3L1267.1 262.3L1267.9 258.3L1268.6 254.4L1269.3 250.4L1270.0 246.4L1270.7 242.4L1271.3 238.4L1272.0 234.4L1272.6 230.4L1273.2 226.4L1273.7 222.4L1274.3 218.4L1274.8 214.4L1275.3 210.4L1275.8 206.4L1276.3 202.4L1276.7 198.4L1277.2 194.3L1277.6 190.3L1278.0 186.3L1278.3 182.3L1278.7 178.2L1279.1 174.2L1279.4 170.2L1279.7 166.1L1280.0 162.1L1280.3 158.1L1280.5 154.0L1280.8 150.0" stroke="#0000ff" stroke-linecap="round"/>
<path d="M947.8 520.6L951.9 520.4L955.9 520.1L959.9 519.8L964.0 519.4L968.0 518.9L972.0 518.3L976.0 517.7L980.0 517.0L984.0 516.2L988.0 515.4L991.9 514.5L995.9 513.6L999.8 512.6L1003.7 511.6L1007.7 510.5L1011.5 509.3L1015.4 508.1L1019.3 506.9L1023.1 505.6L1027.0 504.2L1030.8 502.9L1034.6 501.4L1038.3 499.9L1042.1 498.4L1045.8 496.8L1049.5 495.2L1053.2 493.5L1056.9 491.8L1060.6 490.0L1064.2 488.2L1067.8 486.4L1071.4 484.5L1075.0 482.5L1078.5 480.5L1082.0 478.5L1085.5 476.5L1089.0 474.4L1092.4 472.2L1095.8 470.0L1099.2 467.8L1102.6 465.5L1105.9 463.2L1109.2 460.8L1112.5 458.4L1115.7 456.0L1118.9 453.5L1122.1 450.9L1125.2 448.4L1128.3 445.7L1131.3 443.0L1134.3 440.3L1137.3 437.5L1140.2 434.7L1143.0 431.8L1145.8 428.8L1148.5 425.8L1151.2 422.8L1153.8 419.7L1156.4 416.6L1158.9 413.4L1161.4 410.1L1163.8 406.9L1166.1 403.6L1168.4 400.2L1170.6 396.8L1172.8 393.4L1174.9 389.9L1177.0 386.4L1179.0 382.9L1181.0 379.4L1182.9 375.8L1184.8 372.2L1186.6 368.6L1188.4 364.9L1190.1 361.3L1191.8 357.6L1193.5 353.9L1195.1 350.2L1196.6 346.4L1198.2 342.7L1199.7 338.9L1201.1 335.1L1202.6 331.3L1204.0 327.5L1205.3 323.7L1206.7 319.9L1208.0 316.0L1209.3 312.2L1210.5 308.3L1211.7 304.4L1212.9 300.6L1214.1 296.7L1215.3 292.8L1216.4 288.9L1217.5 285.0L1218.6 281.1L1219.7 277.2L1220.8 273.3L1221.8 269.3L1222.8 265.4L1223.9 261.5L1224.9 257.6L1225.9 253.6L1226.8 249.7L1227.8 245.8L1228.8 241.8L1229.7 237.9L1230.6 233.9L1231.5 230.0L1232.4 226.0L1233.3 222.0L1234.1 218.1L1235.0 214.1L1235.8 210.1L1236.5 206.1L1237.3 202.2L1238.1 198.2L1238.8 194.2L1239.5 190.2L1240.1 186.2L1240.8 182.2L1241.4 178.2L1242.0 174.2L1242.6 170.1L1243.1 166.1L1243.6 162.1L1244.1 158.1L1244.6 154.0L1245.0 150.0" stroke="#000000" stroke-dasharray="37.45 37.45" stroke-dashoffset="-1"/>
</g>
<path d="M1057 745.5L1078 766.5M1057 766.5L1078 745.5M1161.9 745.5L1182.9 766.5M1161.9 766.5L1182.9 745.5M1260.6 745.5L1281.6 766.5M1260.6 766.5L1281.6 745.5M1365.3 745.5L1386.3 766.5M1365.3 766.5L1386.3 745.5M1555.7 629.7L1576.7 650.7M1555.7 650.7L1576.7 629.7" stroke="#ff0000" stroke-width="5.5" stroke-linecap="butt" fill="none"/>
<clipPath id="clipc"><rect x="1696" y="165.7" width="623.2" height="604.1"/></clipPath>
<rect x="1694.5" y="165.7" width="618.7" height="592.1" fill="none" stroke="#4a4a4a" stroke-width="3"/>
<path d="M1832 757.8V742.8M1832 165.7V180.7M1969.5 757.8V742.8M1969.5 165.7V180.7M2107 757.8V742.8M2107 165.7V180.7M2244.5 757.8V742.8M2244.5 165.7V180.7M1694.5 639.4H1709.5M2313.2 639.4H2298.2M1694.5 521H1709.5M2313.2 521H2298.2M1694.5 402.5H1709.5M2313.2 402.5H2298.2M1694.5 284.1H1709.5M2313.2 284.1H2298.2" stroke="#4a4a4a" stroke-width="3" fill="none"/>
<g clip-path="url(#clipc)" fill="none" stroke-width="8.5" stroke-linejoin="miter">
<path d="M1694.5 734.1L1698.6 733.9L1702.8 733.7L1706.9 733.4L1711.0 733.1L1715.1 732.8L1719.3 732.5L1723.4 732.2L1727.5 732.0L1731.7 731.7L1735.8 731.4L1739.9 731.1L1744.0 730.9L1748.2 730.7L1752.3 730.5L1756.4 730.3L1760.6 730.2L1764.7 730.1L1768.9 730.1L1773.0 730.1L1777.1 730.2L1781.3 730.3L1785.4 730.5L1789.5 730.7L1793.7 731.1L1797.8 731.5L1801.9 732.0L1806.0 732.5L1810.1 733.2L1814.1 734.0L1818.2 734.9L1822.2 735.9L1826.2 737.0L1830.1 738.3L1834.0 739.6L1837.9 741.1L1841.7 742.8L1845.4 744.5L1849.1 746.5L1852.7 748.5L1856.2 750.7L1859.6 753.0L1862.9 755.5" stroke="#ff0000" stroke-linecap="round"/>
<path d="M1694.5 710.4L1698.5 710.1L1702.6 709.9L1706.7 709.6L1710.7 709.4L1714.8 709.2L1718.8 709.0L1722.9 708.9L1726.9 708.8L1731.0 708.6L1735.0 708.5L1739.1 708.5L1743.2 708.4L1747.2 708.4L1751.3 708.4L1755.3 708.4L1759.4 708.4L1763.5 708.4L1767.5 708.5L1771.6 708.6L1775.6 708.7L1779.7 708.8L1783.7 708.9L1787.8 709.1L1791.9 709.3L1795.9 709.4L1800.0 709.6L1804.0 709.9L1808.1 710.1L1812.1 710.4L1816.2 710.6L1820.2 710.9L1824.3 711.2L1828.3 711.5L1832.4 711.9L1836.4 712.2L1840.4 712.6L1844.5 712.9L1848.5 713.3L1852.6 713.7L1856.6 714.2L1860.6 714.6L1864.7 715.0L1868.7 715.5L1872.7 715.9L1876.8 716.4L1880.8 716.9L1884.8 717.4L1888.9 717.9L1892.9 718.5L1896.9 719.0L1900.9 719.6L1904.9 720.2L1909.0 720.8L1913.0 721.4L1917.0 722.1L1921.0 722.8L1924.9 723.6L1928.9 724.4L1932.9 725.2L1936.9 726.1L1940.8 727.0L1944.8 728.0L1948.7 729.0L1952.6 730.1L1956.5 731.2L1960.4 732.4L1964.2 733.7L1968.0 735.1L1971.8 736.5L1975.6 738.1L1979.3 739.8L1982.9 741.6L1986.5 743.5L1990.0 745.6L1993.3 747.9L1996.6 750.2L1999.8 752.8L2002.8 755.5" stroke="#00ff00" stroke-dasharray="37.45 37.45" stroke-dashoffset="-1"/>
<path d="M1694.5 686.6L1698.6 686.6L1702.6 686.7L1706.7 686.7L1710.7 686.8L1714.8 686.8L1718.9 686.9L1722.9 686.9L1727.0 687.0L1731.0 687.0L1735.1 687.1L1739.2 687.1L1743.2 687.1L1747.3 687.2L1751.3 687.3L1755.4 687.3L1759.5 687.4L1763.5 687.4L1767.6 687.5L1771.6 687.6L1775.7 687.6L1779.8 687.7L1783.8 687.8L1787.9 687.9L1791.9 688.0L1796.0 688.1L1800.1 688.2L1804.1 688.3L1808.2 688.4L1812.2 688.5L1816.3 688.7L1820.4 688.8L1824.4 689.0L1828.5 689.1L1832.5 689.3L1836.6 689.4L1840.6 689.6L1844.7 689.8L1848.7 690.0L1852.8 690.2L1856.9 690.4L1860.9 690.7L1865.0 690.9L1869.0 691.2L1873.1 691.4L1877.1 691.7L1881.2 692.0L1885.2 692.3L1889.3 692.6L1893.3 692.9L1897.4 693.3L1901.4 693.6L1905.5 694.0L1909.5 694.4L1913.5 694.8L1917.6 695.2L1921.6 695.6L1925.6 696.1L1929.7 696.5L1933.7 697.0L1937.7 697.5L1941.8 698.0L1945.8 698.5L1949.8 699.1L1953.8 699.6L1957.9 700.2L1961.9 700.8L1965.9 701.4L1969.9 702.0L1973.9 702.7L1977.9 703.4L1981.9 704.1L1985.9 704.8L1989.9 705.5L1993.9 706.3L1997.9 707.1L2001.9 707.9L2005.8 708.7L2009.8 709.5L2013.8 710.4L2017.7 711.3L2021.7 712.2L2025.6 713.1L2029.6 714.1L2033.5 715.1L2037.5 716.1L2041.4 717.1L2045.3 718.2L2049.2 719.3L2053.1 720.4L2057.0 721.6L2060.9 722.8L2064.7 724.1L2068.6 725.4L2072.4 726.8L2076.2 728.2L2080.0 729.7L2083.7 731.2L2087.5 732.8L2091.2 734.5L2094.8 736.2L2098.5 738.1L2102.1 739.9L2105.6 741.9L2109.1 744.0L2112.6 746.1L2116.0 748.3L2119.3 750.6L2122.6 753.0L2125.8 755.5" stroke="#0000ff" stroke-dasharray="8.8 9.86"/>
<path d="M1694.5 662.9L1698.6 663.1L1702.6 663.2L1706.7 663.4L1710.7 663.5L1714.8 663.7L1718.8 663.8L1722.9 663.9L1726.9 664.1L1731.0 664.2L1735.1 664.3L1739.1 664.4L1743.2 664.5L1747.2 664.6L1751.3 664.7L1755.3 664.8L1759.4 664.9L1763.5 665.0L1767.5 665.1L1771.6 665.2L1775.6 665.3L1779.7 665.4L1783.7 665.5L1787.8 665.5L1791.9 665.6L1795.9 665.7L1800.0 665.8L1804.0 665.9L1808.1 666.0L1812.1 666.1L1816.2 666.2L1820.3 666.2L1824.3 666.3L1828.4 666.4L1832.4 666.5L1836.5 666.7L1840.5 666.8L1844.6 666.9L1848.7 667.0L1852.7 667.1L1856.8 667.3L1860.8 667.4L1864.9 667.5L1868.9 667.7L1873.0 667.8L1877.1 668.0L1881.1 668.2L1885.2 668.3L1889.2 668.5L1893.3 668.7L1897.3 668.9L1901.4 669.1L1905.4 669.4L1909.5 669.6L1913.5 669.8L1917.6 670.1L1921.6 670.3L1925.7 670.6L1929.7 670.9L1933.8 671.2L1937.8 671.5L1941.9 671.8L1945.9 672.1L1950.0 672.5L1954.0 672.8L1958.0 673.2L1962.1 673.6L1966.1 674.0L1970.2 674.4L1974.2 674.8L1978.2 675.3L1982.3 675.7L1986.3 676.2L1990.3 676.7L1994.3 677.2L1998.4 677.7L2002.4 678.3L2006.4 678.8L2010.4 679.4L2014.4 680.0L2018.5 680.6L2022.5 681.3L2026.5 681.9L2030.5 682.6L2034.5 683.3L2038.5 684.0L2042.5 684.7L2046.4 685.5L2050.4 686.3L2054.4 687.1L2058.4 687.9L2062.3 688.7L2066.3 689.6L2070.3 690.5L2074.2 691.4L2078.2 692.3L2082.1 693.3L2086.0 694.3L2090.0 695.3L2093.9 696.4L2097.8 697.4L2101.7 698.5L2105.6 699.6L2109.5 700.8L2113.4 702.0L2117.3 703.2L2121.1 704.4L2125.0 705.7L2128.8 707.0L2132.7 708.4L2136.5 709.7L2140.3 711.1L2144.1 712.6L2147.9 714.0L2151.6 715.5L2155.4 717.1L2159.1 718.6L2162.9 720.2L2166.6 721.9L2170.3 723.5L2174.0 725.3L2177.6 727.0L2181.3 728.8L2184.9 730.6L2188.5 732.5L2192.1 734.4L2195.6 736.3L2199.2 738.3L2202.7 740.3L2206.2 742.4L2209.7 744.4L2213.1 746.6L2216.6 748.7L2220.0 751.0L2223.4 753.2L2226.7 755.5" stroke="#000000" stroke-dasharray="36.5 10.9 16.6 10.9"/>
<path d="M1694.5 640.2L2313.2 640.2" stroke="#00ffff"/>
<path d="M1694.5 616.1L1698.5 615.9L1702.5 615.6L1706.6 615.4L1710.6 615.2L1714.6 615.0L1718.6 614.9L1722.6 614.7L1726.6 614.5L1730.7 614.4L1734.7 614.3L1738.7 614.1L1742.7 614.0L1746.8 613.9L1750.8 613.8L1754.8 613.7L1758.8 613.6L1762.8 613.5L1766.9 613.4L1770.9 613.3L1774.9 613.1L1778.9 613.0L1782.9 612.9L1787.0 612.8L1791.0 612.7L1795.0 612.6L1799.0 612.5L1803.1 612.3L1807.1 612.2L1811.1 612.1L1815.1 611.9L1819.1 611.7L1823.2 611.6L1827.2 611.4L1831.2 611.2L1835.2 611.0L1839.2 610.7L1843.2 610.5L1847.3 610.2L1851.3 610.0L1855.3 609.7L1859.3 609.4L1863.3 609.0L1867.3 608.7L1871.3 608.3L1875.3 607.9L1879.3 607.5L1883.3 607.1L1887.3 606.6L1891.3 606.1L1895.3 605.6L1899.3 605.1L1903.3 604.5L1907.3 603.9L1911.2 603.3L1915.2 602.7L1919.2 602.0L1923.1 601.3L1927.1 600.5L1931.0 599.7L1935.0 598.9L1938.9 598.1L1942.8 597.2L1946.7 596.3L1950.6 595.3L1954.5 594.3L1958.4 593.3L1962.3 592.2L1966.2 591.0L1970.0 589.8L1973.8 588.6L1977.6 587.3L1981.4 585.9L1985.1 584.4L1988.9 582.9L1992.6 581.3L1996.2 579.6L1999.8 577.9L2003.4 576.0L2006.9 574.1L2010.4 572.1L2013.9 570.0L2017.2 567.8L2020.5 565.5L2023.8 563.1L2026.9 560.6L2030.0 558.0L2033.0 555.3L2035.9 552.6L2038.8 549.7L2041.5 546.8L2044.2 543.8L2046.8 540.7L2049.4 537.6L2051.8 534.4L2054.2 531.2L2056.5 527.9L2058.7 524.5L2060.8 521.1L2062.8 517.6L2064.8 514.1L2066.7 510.5L2068.5 507.0L2070.2 503.3L2071.9 499.7L2073.4 495.9L2075.0 492.2L2076.4 488.5L2077.8 484.7L2079.1 480.9L2080.3 477.0L2081.5 473.2L2082.6 469.3L2083.7 465.5L2084.8 461.6L2085.8 457.7L2086.7 453.8L2087.7 449.9L2088.6 446.0L2089.4 442.0L2090.3 438.1L2091.1 434.2L2091.9 430.2L2092.7 426.3L2093.4 422.3L2094.2 418.4L2094.9 414.4L2095.6 410.4L2096.3 406.5L2097.0 402.5L2097.6 398.5L2098.2 394.6L2098.8 390.6L2099.4 386.6L2100.0 382.6L2100.6 378.6L2101.1 374.7L2101.7 370.7L2102.2 366.7L2102.7 362.7L2103.2 358.7L2103.7 354.7L2104.1 350.7L2104.6 346.7L2105.0 342.7L2105.4 338.7L2105.8 334.7L2106.2 330.7L2106.6 326.7L2107.0 322.7L2107.3 318.7L2107.7 314.7L2108.0 310.7L2108.4 306.7L2108.7 302.6L2109.0 298.6L2109.3 294.6L2109.6 290.6L2109.9 286.6L2110.1 282.6L2110.4 278.6L2110.7 274.6L2110.9 270.5L2111.2 266.5L2111.4 262.5L2111.6 258.5L2111.9 254.5L2112.1 250.5L2112.3 246.4L2112.5 242.4L2112.7 238.4L2112.9 234.4L2113.1 230.4L2113.3 226.3L2113.5 222.3L2113.7 218.3L2113.9 214.3L2114.1 210.3L2114.3 206.3L2114.5 202.2L2114.7 198.2L2114.9 194.2L2115.1 190.2L2115.2 186.2L2115.4 182.1L2115.6 178.1L2115.8 174.1L2116.0 170.1L2116.2 166.1L2116.4 162.1L2116.6 158.0L2116.8 154.0L2117.0 150.0" stroke="#ff00ff" stroke-dasharray="37.45 37.45" stroke-dashoffset="-1"/>
<path d="M1694.5 591.8L1698.5 591.4L1702.5 591.1L1706.6 590.7L1710.6 590.4L1714.6 590.1L1718.6 589.8L1722.7 589.5L1726.7 589.2L1730.7 588.9L1734.7 588.6L1738.8 588.3L1742.8 588.0L1746.8 587.7L1750.8 587.4L1754.9 587.1L1758.9 586.8L1762.9 586.4L1766.9 586.1L1771.0 585.7L1775.0 585.4L1779.0 585.0L1783.0 584.6L1787.0 584.1L1791.0 583.7L1795.0 583.2L1799.0 582.7L1803.0 582.2L1807.0 581.6L1811.0 581.0L1815.0 580.4L1819.0 579.8L1823.0 579.1L1827.0 578.3L1830.9 577.6L1834.9 576.8L1838.8 575.9L1842.8 575.0L1846.7 574.1L1850.6 573.1L1854.5 572.1L1858.4 571.0L1862.3 569.9L1866.1 568.7L1870.0 567.5L1873.8 566.2L1877.6 564.8L1881.4 563.4L1885.1 561.9L1888.9 560.4L1892.6 558.8L1896.3 557.1L1899.9 555.4L1903.5 553.6L1907.1 551.7L1910.6 549.8L1914.1 547.7L1917.6 545.6L1921.0 543.5L1924.3 541.2L1927.6 538.9L1930.8 536.4L1934.0 533.9L1937.1 531.4L1940.1 528.7L1943.1 526.0L1946.0 523.1L1948.8 520.2L1951.6 517.3L1954.2 514.3L1956.8 511.2L1959.4 508.0L1961.8 504.8L1964.2 501.6L1966.5 498.3L1968.8 494.9L1971.0 491.5L1973.1 488.1L1975.2 484.6L1977.2 481.1L1979.1 477.6L1981.0 474.0L1982.8 470.4L1984.6 466.8L1986.3 463.1L1988.0 459.5L1989.6 455.8L1991.1 452.0L1992.7 448.3L1994.1 444.5L1995.5 440.8L1996.9 437.0L1998.3 433.2L1999.5 429.3L2000.8 425.5L2002.0 421.6L2003.2 417.8L2004.3 413.9L2005.4 410.0L2006.5 406.1L2007.5 402.2L2008.6 398.3L2009.5 394.4L2010.5 390.5L2011.4 386.6L2012.3 382.6L2013.1 378.7L2013.9 374.7L2014.7 370.8L2015.5 366.8L2016.3 362.8L2017.0 358.9L2017.7 354.9L2018.3 350.9L2019.0 346.9L2019.6 342.9L2020.2 338.9L2020.8 334.9L2021.3 330.9L2021.9 326.9L2022.4 322.9L2022.9 318.9L2023.4 314.9L2023.8 310.9L2024.3 306.9L2024.7 302.9L2025.1 298.9L2025.5 294.9L2025.9 290.8L2026.3 286.8L2026.6 282.8L2027.0 278.8L2027.3 274.8L2027.7 270.7L2028.0 266.7L2028.3 262.7L2028.6 258.7L2028.9 254.6L2029.2 250.6L2029.5 246.6L2029.8 242.6L2030.1 238.5L2030.4 234.5L2030.6 230.5L2030.9 226.5L2031.2 222.4L2031.5 218.4L2031.8 214.4L2032.0 210.3L2032.3 206.3L2032.6 202.3L2032.9 198.3L2033.2 194.2L2033.5 190.2L2033.8 186.2L2034.1 182.2L2034.5 178.1L2034.8 174.1L2035.1 170.1L2035.5 166.1L2035.8 162.1L2036.2 158.0L2036.6 154.0L2037.0 150.0" stroke="#ff0000" stroke-dasharray="8.8 9.86"/>
<path d="M1694.5 568.0L1698.5 567.7L1702.6 567.3L1706.6 566.9L1710.6 566.5L1714.6 566.0L1718.6 565.6L1722.6 565.0L1726.6 564.5L1730.6 563.9L1734.6 563.3L1738.6 562.6L1742.6 561.9L1746.6 561.2L1750.5 560.4L1754.5 559.6L1758.4 558.7L1762.4 557.8L1766.3 556.9L1770.2 555.9L1774.1 554.9L1778.0 553.9L1781.9 552.8L1785.8 551.6L1789.7 550.5L1793.5 549.2L1797.4 548.0L1801.2 546.6L1805.0 545.3L1808.8 543.9L1812.5 542.4L1816.3 540.9L1820.0 539.3L1823.7 537.7L1827.4 536.0L1831.0 534.3L1834.7 532.5L1838.3 530.7L1841.8 528.8L1845.4 526.8L1848.9 524.8L1852.3 522.7L1855.8 520.6L1859.1 518.4L1862.5 516.1L1865.8 513.7L1869.0 511.3L1872.2 508.9L1875.3 506.3L1878.4 503.7L1881.4 501.0L1884.4 498.2L1887.3 495.4L1890.1 492.5L1892.8 489.5L1895.5 486.5L1898.1 483.4L1900.6 480.2L1903.0 477.0L1905.4 473.8L1907.7 470.4L1910.0 467.1L1912.2 463.7L1914.3 460.2L1916.3 456.8L1918.3 453.2L1920.2 449.7L1922.1 446.1L1923.9 442.5L1925.7 438.8L1927.4 435.2L1929.0 431.5L1930.6 427.8L1932.1 424.0L1933.6 420.3L1935.1 416.5L1936.5 412.7L1937.9 408.9L1939.2 405.1L1940.5 401.3L1941.7 397.4L1942.9 393.6L1944.1 389.7L1945.2 385.8L1946.3 381.9L1947.4 378.0L1948.4 374.1L1949.5 370.2L1950.4 366.3L1951.4 362.4L1952.3 358.5L1953.3 354.5L1954.2 350.6L1955.0 346.6L1955.9 342.7L1956.7 338.7L1957.5 334.8L1958.3 330.8L1959.0 326.8L1959.7 322.9L1960.5 318.9L1961.1 314.9L1961.8 310.9L1962.5 306.9L1963.1 302.9L1963.7 298.9L1964.3 294.9L1964.8 290.9L1965.4 286.9L1965.9 282.9L1966.4 278.9L1966.9 274.9L1967.4 270.9L1967.9 266.9L1968.3 262.9L1968.7 258.8L1969.2 254.8L1969.6 250.8L1969.9 246.8L1970.3 242.8L1970.7 238.7L1971.0 234.7L1971.3 230.7L1971.7 226.6L1972.0 222.6L1972.3 218.6L1972.5 214.6L1972.8 210.5L1973.1 206.5L1973.3 202.5L1973.6 198.4L1973.8 194.4L1974.1 190.4L1974.3 186.3L1974.5 182.3L1974.7 178.3L1974.9 174.2L1975.1 170.2L1975.3 166.1L1975.5 162.1L1975.7 158.1L1975.8 154.0L1976.0 150.0" stroke="#00ff00" stroke-dasharray="36.5 10.9 16.6 10.9"/>
<path d="M1694.5 544.3L1698.4 543.3L1702.4 542.3L1706.3 541.3L1710.2 540.3L1714.1 539.2L1718.0 538.1L1721.9 537.0L1725.8 535.8L1729.7 534.7L1733.6 533.5L1737.5 532.2L1741.3 531.0L1745.1 529.7L1749.0 528.3L1752.8 526.9L1756.6 525.5L1760.4 524.0L1764.1 522.5L1767.9 521.0L1771.6 519.4L1775.3 517.7L1779.0 516.0L1782.7 514.3L1786.3 512.5L1789.9 510.6L1793.5 508.7L1797.0 506.7L1800.5 504.7L1804.0 502.6L1807.4 500.4L1810.8 498.2L1814.2 495.9L1817.5 493.6L1820.7 491.1L1823.9 488.7L1827.1 486.1L1830.2 483.5L1833.3 480.8L1836.3 478.1L1839.2 475.3L1842.1 472.5L1844.9 469.5L1847.7 466.6L1850.4 463.5L1853.0 460.5L1855.6 457.3L1858.1 454.1L1860.5 450.9L1862.9 447.6L1865.2 444.2L1867.4 440.8L1869.5 437.4L1871.6 433.9L1873.6 430.4L1875.5 426.8L1877.4 423.2L1879.2 419.6L1880.9 415.9L1882.6 412.2L1884.2 408.5L1885.8 404.7L1887.3 401.0L1888.7 397.2L1890.1 393.4L1891.5 389.5L1892.8 385.7L1894.0 381.8L1895.2 378.0L1896.4 374.1L1897.6 370.2L1898.7 366.3L1899.8 362.4L1900.8 358.5L1901.8 354.5L1902.8 350.6L1903.8 346.7L1904.7 342.7L1905.7 338.8L1906.6 334.8L1907.5 330.9L1908.3 326.9L1909.2 322.9L1910.0 319.0L1910.8 315.0L1911.6 311.0L1912.4 307.0L1913.1 303.0L1913.9 299.0L1914.6 295.0L1915.3 291.1L1916.0 287.1L1916.6 283.1L1917.3 279.0L1917.9 275.0L1918.5 271.0L1919.1 267.0L1919.7 263.0L1920.3 259.0L1920.8 255.0L1921.4 250.9L1921.9 246.9L1922.4 242.9L1922.9 238.9L1923.4 234.8L1923.9 230.8L1924.3 226.8L1924.8 222.8L1925.2 218.7L1925.6 214.7L1926.1 210.7L1926.5 206.6L1926.8 202.6L1927.2 198.5L1927.6 194.5L1927.9 190.5L1928.3 186.4L1928.6 182.4L1929.0 178.3L1929.3 174.3L1929.6 170.2L1929.9 166.2L1930.2 162.1L1930.5 158.1L1930.7 154.0L1931.0 150.0" stroke="#0000ff" stroke-linecap="round"/>
<path d="M1694.5 520.6L1698.4 519.7L1702.4 518.7L1706.3 517.6L1710.2 516.4L1714.1 515.2L1717.9 513.9L1721.7 512.5L1725.5 511.1L1729.3 509.6L1733.0 508.0L1736.7 506.3L1740.4 504.6L1744.1 502.8L1747.7 501.0L1751.2 499.0L1754.8 497.1L1758.3 495.0L1761.8 492.9L1765.2 490.7L1768.6 488.5L1771.9 486.2L1775.2 483.8L1778.5 481.4L1781.7 478.9L1784.9 476.4L1788.0 473.8L1791.0 471.1L1794.1 468.4L1797.0 465.6L1799.9 462.8L1802.8 459.9L1805.6 457.0L1808.3 454.0L1811.0 450.9L1813.6 447.8L1816.2 444.7L1818.7 441.5L1821.1 438.2L1823.5 434.9L1825.8 431.6L1828.0 428.2L1830.1 424.7L1832.2 421.3L1834.3 417.7L1836.2 414.2L1838.2 410.6L1840.0 407.0L1841.8 403.3L1843.5 399.7L1845.2 396.0L1846.8 392.3L1848.4 388.5L1849.9 384.8L1851.4 381.0L1852.8 377.2L1854.2 373.4L1855.6 369.5L1856.9 365.7L1858.1 361.8L1859.3 357.9L1860.5 354.1L1861.7 350.2L1862.8 346.3L1863.9 342.3L1864.9 338.4L1865.9 334.5L1866.9 330.6L1867.9 326.6L1868.8 322.7L1869.7 318.7L1870.6 314.7L1871.5 310.8L1872.3 306.8L1873.1 302.8L1873.9 298.8L1874.6 294.8L1875.4 290.9L1876.1 286.9L1876.8 282.9L1877.5 278.9L1878.1 274.8L1878.8 270.8L1879.4 266.8L1880.0 262.8L1880.6 258.8L1881.2 254.8L1881.8 250.8L1882.3 246.7L1882.9 242.7L1883.4 238.7L1883.9 234.7L1884.5 230.6L1885.0 226.6L1885.5 222.6L1886.0 218.6L1886.4 214.5L1886.9 210.5L1887.4 206.5L1887.9 202.4L1888.3 198.4L1888.8 194.4L1889.3 190.3L1889.7 186.3L1890.2 182.3L1890.7 178.2L1891.1 174.2L1891.6 170.2L1892.1 166.1L1892.5 162.1L1893.0 158.1L1893.5 154.0L1894.0 150.0" stroke="#000000" stroke-dasharray="37.45 37.45" stroke-dashoffset="-1"/>
</g>
<path d="M1852.4 745.5L1873.4 766.5M1852.4 766.5L1873.4 745.5M1992.5 745.5L2013.5 766.5M1992.5 766.5L2013.5 745.5M2115.3 746L2136.3 767M2115.3 767L2136.3 746M2216.2 745.5L2237.2 766.5M2216.2 766.5L2237.2 745.5M2302.7 629.7L2323.7 650.7M2302.7 650.7L2323.7 629.7" stroke="#ff0000" stroke-width="5.5" stroke-linecap="butt" fill="none"/>
<clipPath id="clipd"><rect x="200" y="939.8" width="621.3" height="602.8"/></clipPath>
<rect x="198.5" y="939.8" width="616.8" height="590.8" fill="none" stroke="#4a4a4a" stroke-width="3"/>
<path d="M335.6 1530.6V1515.6M335.6 939.8V954.8M472.6 1530.6V1515.6M472.6 939.8V954.8M609.7 1530.6V1515.6M609.7 939.8V954.8M746.8 1530.6V1515.6M746.8 939.8V954.8M198.5 1412.4H213.5M815.3 1412.4H800.3M198.5 1294.3H213.5M815.3 1294.3H800.3M198.5 1176.1H213.5M815.3 1176.1H800.3M198.5 1058H213.5M815.3 1058H800.3" stroke="#4a4a4a" stroke-width="3" fill="none"/>
<g clip-path="url(#clipd)" fill="none" stroke-width="8.5" stroke-linejoin="miter">
<path d="M198.5 1507.0L202.5 1506.2L206.5 1505.5L210.6 1504.8L214.6 1504.2L218.6 1503.5L222.7 1502.9L226.7 1502.4L230.7 1501.8L234.8 1501.3L238.8 1500.9L242.9 1500.4L247.0 1500.0L251.0 1499.6L255.1 1499.3L259.2 1499.0L263.2 1498.7L267.3 1498.5L271.4 1498.3L275.5 1498.1L279.5 1498.0L283.6 1497.9L287.7 1497.8L291.8 1497.8L295.9 1497.8L300.0 1497.8L304.0 1497.9L308.1 1498.0L312.2 1498.2L316.3 1498.4L320.3 1498.6L324.4 1498.9L328.5 1499.2L332.5 1499.6L336.6 1500.0L340.7 1500.4L344.7 1500.9L348.8 1501.5L352.8 1502.0L356.8 1502.7L360.9 1503.4L364.9 1504.1L368.9 1504.9L372.9 1505.8L376.8 1506.7L380.8 1507.7L384.7 1508.8L388.6 1510.0L392.5 1511.3L396.3 1512.7L400.1 1514.2L403.9 1515.8L407.6 1517.5L411.3 1519.3L414.9 1521.2L418.4 1523.2L421.9 1525.3L425.3 1527.6L428.6 1530.0" stroke="#ff0000" stroke-linecap="round"/>
<path d="M198.5 1483.3L202.6 1482.9L206.6 1482.5L210.7 1482.2L214.8 1481.8L218.8 1481.5L222.9 1481.2L227.0 1480.9L231.0 1480.7L235.1 1480.4L239.2 1480.2L243.2 1479.9L247.3 1479.7L251.4 1479.5L255.5 1479.4L259.5 1479.2L263.6 1479.1L267.7 1478.9L271.8 1478.8L275.8 1478.7L279.9 1478.6L284.0 1478.6L288.1 1478.5L292.2 1478.5L296.2 1478.5L300.3 1478.4L304.4 1478.4L308.5 1478.5L312.6 1478.5L316.6 1478.5L320.7 1478.6L324.8 1478.7L328.9 1478.8L332.9 1478.9L337.0 1479.0L341.1 1479.1L345.2 1479.2L349.3 1479.4L353.3 1479.6L357.4 1479.7L361.5 1479.9L365.6 1480.1L369.6 1480.3L373.7 1480.6L377.8 1480.8L381.8 1481.1L385.9 1481.3L390.0 1481.6L394.1 1481.9L398.1 1482.2L402.2 1482.5L406.3 1482.8L410.3 1483.1L414.4 1483.5L418.4 1483.8L422.5 1484.2L426.6 1484.6L430.6 1485.0L434.7 1485.3L438.8 1485.8L442.8 1486.2L446.9 1486.6L450.9 1487.0L455.0 1487.5L459.0 1487.9L463.1 1488.4L467.1 1488.9L471.2 1489.3L475.2 1489.8L479.3 1490.3L483.3 1490.8L487.4 1491.3L491.4 1491.9L495.5 1492.4L499.5 1492.9L503.6 1493.5L507.6 1494.0L511.6 1494.6L515.7 1495.2L519.7 1495.8L523.7 1496.4L527.8 1497.0L531.8 1497.6L535.8 1498.2L539.9 1498.8L543.9 1499.4L547.9 1500.0L552.0 1500.7L556.0 1501.3L560.0 1502.0L564.0 1502.6L568.1 1503.3L572.1 1504.0L576.1 1504.6L580.1 1505.3L584.2 1506.0L588.2 1506.7L592.2 1507.4" stroke="#00ff00" stroke-dasharray="37.45 37.45" stroke-dashoffset="-1"/>
<path d="M198.5 1459.7L202.5 1459.5L206.6 1459.2L210.6 1459.0L214.6 1458.8L218.7 1458.7L222.7 1458.5L226.7 1458.3L230.8 1458.2L234.8 1458.0L238.9 1457.9L242.9 1457.8L246.9 1457.7L251.0 1457.6L255.0 1457.5L259.1 1457.5L263.1 1457.4L267.1 1457.4L271.2 1457.3L275.2 1457.3L279.3 1457.3L283.3 1457.3L287.3 1457.3L291.4 1457.3L295.4 1457.4L299.5 1457.4L303.5 1457.5L307.5 1457.5L311.6 1457.6L315.6 1457.7L319.7 1457.8L323.7 1457.9L327.7 1458.0L331.8 1458.1L335.8 1458.3L339.9 1458.4L343.9 1458.6L347.9 1458.7L352.0 1458.9L356.0 1459.1L360.0 1459.2L364.1 1459.4L368.1 1459.6L372.2 1459.9L376.2 1460.1L380.2 1460.3L384.3 1460.5L388.3 1460.8L392.3 1461.0L396.4 1461.3L400.4 1461.6L404.4 1461.8L408.4 1462.1L412.5 1462.4L416.5 1462.7L420.5 1463.0L424.6 1463.3L428.6 1463.6L432.6 1463.9L436.6 1464.3L440.7 1464.6L444.7 1464.9L448.7 1465.3L452.8 1465.6L456.8 1466.0L460.8 1466.4L464.8 1466.7L468.8 1467.1L472.9 1467.5L476.9 1467.9L480.9 1468.3L484.9 1468.7L489.0 1469.1L493.0 1469.5L497.0 1469.9L501.0 1470.3L505.0 1470.7L509.0 1471.2L513.1 1471.6L517.1 1472.0L521.1 1472.5L525.1 1472.9L529.1 1473.4L533.1 1473.8L537.2 1474.3L541.2 1474.7L545.2 1475.2L549.2 1475.6L553.2 1476.1L557.2 1476.6L561.2 1477.0L565.3 1477.5L569.3 1478.0L573.3 1478.5L577.3 1479.0L581.3 1479.5L585.3 1479.9L589.3 1480.4L593.3 1480.9L597.3 1481.4L601.4 1481.9L605.4 1482.4L609.4 1482.9L613.4 1483.4L617.4 1483.9L621.4 1484.4L625.4 1484.9L629.4 1485.4L633.4 1485.9L637.4 1486.4L641.4 1487.0L645.5 1487.5L649.5 1488.0L653.5 1488.5L657.5 1489.0L661.5 1489.5L665.5 1490.0L669.5 1490.5L673.5 1491.0L677.5 1491.5L681.5 1492.1L685.5 1492.6L689.5 1493.1L693.6 1493.6L697.6 1494.1L701.6 1494.6L705.6 1495.1L709.6 1495.6L713.6 1496.1" stroke="#0000ff" stroke-dasharray="8.8 9.86"/>
<path d="M198.5 1436.0L202.5 1435.9L206.6 1435.9L210.6 1435.8L214.6 1435.8L218.6 1435.7L222.7 1435.7L226.7 1435.7L230.7 1435.6L234.8 1435.6L238.8 1435.6L242.8 1435.6L246.9 1435.6L250.9 1435.6L254.9 1435.6L258.9 1435.6L263.0 1435.6L267.0 1435.6L271.0 1435.7L275.1 1435.7L279.1 1435.7L283.1 1435.8L287.1 1435.8L291.2 1435.9L295.2 1435.9L299.2 1436.0L303.3 1436.1L307.3 1436.1L311.3 1436.2L315.3 1436.3L319.4 1436.4L323.4 1436.5L327.4 1436.6L331.5 1436.7L335.5 1436.8L339.5 1437.0L343.5 1437.1L347.6 1437.2L351.6 1437.4L355.6 1437.5L359.7 1437.7L363.7 1437.8L367.7 1438.0L371.7 1438.2L375.8 1438.3L379.8 1438.5L383.8 1438.7L387.8 1438.9L391.9 1439.1L395.9 1439.3L399.9 1439.6L403.9 1439.8L407.9 1440.0L412.0 1440.3L416.0 1440.5L420.0 1440.8L424.0 1441.0L428.1 1441.3L432.1 1441.6L436.1 1441.8L440.1 1442.1L444.1 1442.4L448.2 1442.7L452.2 1443.0L456.2 1443.4L460.2 1443.7L464.2 1444.0L468.2 1444.4L472.2 1444.7L476.3 1445.1L480.3 1445.4L484.3 1445.8L488.3 1446.2L492.3 1446.5L496.3 1446.9L500.3 1447.3L504.3 1447.7L508.3 1448.2L512.4 1448.6L516.4 1449.0L520.4 1449.4L524.4 1449.9L528.4 1450.3L532.4 1450.8L536.4 1451.3L540.4 1451.7L544.4 1452.2L548.4 1452.7L552.4 1453.2L556.4 1453.7L560.4 1454.3L564.4 1454.8L568.4 1455.3L572.4 1455.9L576.3 1456.4L580.3 1457.0L584.3 1457.5L588.3 1458.1L592.3 1458.7L596.3 1459.3L600.3 1459.9L604.3 1460.5L608.2 1461.1L612.2 1461.7L616.2 1462.4L620.2 1463.0L624.2 1463.6L628.1 1464.3L632.1 1464.9L636.1 1465.6L640.1 1466.2L644.0 1466.9L648.0 1467.6L652.0 1468.2L656.0 1468.9L659.9 1469.6L663.9 1470.2L667.9 1470.9L671.9 1471.6L675.8 1472.3L679.8 1472.9L683.8 1473.6L687.7 1474.3L691.7 1475.0L695.7 1475.6L699.7 1476.3L703.6 1477.0L707.6 1477.6L711.6 1478.3L715.6 1478.9L719.5 1479.6L723.5 1480.2L727.5 1480.9L731.5 1481.5L735.5 1482.2L739.4 1482.8L743.4 1483.4L747.4 1484.0L751.4 1484.6L755.4 1485.2L759.3 1485.8L763.3 1486.4L767.3 1487.0L771.3 1487.5L775.3 1488.1L779.3 1488.6L783.3 1489.2L787.3 1489.7L791.3 1490.2L795.3 1490.7L799.3 1491.2L803.3 1491.7L807.3 1492.1L811.3 1492.6L815.3 1493.0" stroke="#000000" stroke-dasharray="36.5 10.9 16.6 10.9"/>
<path d="M198.5 1413.0L815.3 1413.0" stroke="#00ffff"/>
<path d="M198.5 1388.8L202.5 1388.4L206.5 1388.1L210.6 1387.8L214.6 1387.5L218.6 1387.2L222.7 1387.0L226.7 1386.7L230.7 1386.6L234.8 1386.4L238.8 1386.2L242.8 1386.1L246.9 1385.9L250.9 1385.8L254.9 1385.7L259.0 1385.6L263.0 1385.5L267.1 1385.4L271.1 1385.4L275.1 1385.3L279.2 1385.2L283.2 1385.1L287.3 1385.0L291.3 1385.0L295.3 1384.9L299.4 1384.8L303.4 1384.7L307.4 1384.6L311.5 1384.4L315.5 1384.3L319.5 1384.1L323.6 1384.0L327.6 1383.8L331.7 1383.6L335.7 1383.4L339.7 1383.1L343.7 1382.8L347.8 1382.5L351.8 1382.2L355.8 1381.8L359.8 1381.4L363.9 1381.0L367.9 1380.6L371.9 1380.1L375.9 1379.5L379.9 1379.0L383.9 1378.4L387.9 1377.7L391.8 1377.0L395.8 1376.3L399.8 1375.5L403.7 1374.7L407.7 1373.8L411.6 1372.8L415.5 1371.9L419.4 1370.8L423.3 1369.7L427.2 1368.6L431.0 1367.4L434.9 1366.1L438.7 1364.8L442.5 1363.5L446.3 1362.0L450.0 1360.5L453.7 1359.0L457.4 1357.3L461.1 1355.7L464.7 1353.9L468.3 1352.0L471.9 1350.1L475.4 1348.1L478.8 1346.0L482.2 1343.7L485.5 1341.4L488.7 1339.0L491.9 1336.5L495.0 1333.9L497.9 1331.1L500.8 1328.3L503.6 1325.4L506.3 1322.4L508.8 1319.2L511.3 1316.0L513.7 1312.8L516.0 1309.4L518.1 1306.0L520.2 1302.6L522.2 1299.1L524.1 1295.5L526.0 1291.9L527.7 1288.3L529.3 1284.6L530.9 1280.9L532.4 1277.1L533.9 1273.3L535.2 1269.5L536.5 1265.7L537.8 1261.9L539.0 1258.0L540.1 1254.1L541.2 1250.2L542.2 1246.3L543.2 1242.4L544.1 1238.5L545.1 1234.6L545.9 1230.6L546.8 1226.7L547.6 1222.7L548.3 1218.7L549.1 1214.8L549.8 1210.8L550.5 1206.8L551.2 1202.8L551.8 1198.9L552.5 1194.9L553.1 1190.9L553.7 1186.9L554.3 1182.9L554.8 1178.9L555.4 1174.9L555.9 1170.9L556.4 1166.9L556.9 1162.9L557.4 1158.9L557.9 1154.8L558.3 1150.8L558.7 1146.8L559.1 1142.8L559.5 1138.8L559.9 1134.8L560.3 1130.7L560.7 1126.7L561.0 1122.7L561.3 1118.7L561.6 1114.6L561.9 1110.6L562.2 1106.6L562.5 1102.5L562.8 1098.5L563.0 1094.5L563.3 1090.5L563.5 1086.4L563.8 1082.4L564.0 1078.4L564.2 1074.3L564.4 1070.3L564.6 1066.3L564.8 1062.2L565.0 1058.2L565.1 1054.2L565.3 1050.1L565.5 1046.1L565.6 1042.0L565.8 1038.0L565.9 1034.0L566.1 1029.9L566.2 1025.9L566.3 1021.9L566.5 1017.8L566.6 1013.8L566.7 1009.8L566.9 1005.7L567.0 1001.7L567.1 997.6L567.2 993.6L567.4 989.6L567.5 985.5L567.6 981.5L567.8 977.5L567.9 973.4L568.0 969.4L568.2 965.4L568.3 961.3L568.5 957.3L568.6 953.2L568.8 949.2L568.9 945.2L569.1 941.1L569.3 937.1L569.4 933.1L569.6 929.0L569.8 925.0" stroke="#ff00ff" stroke-dasharray="37.45 37.45" stroke-dashoffset="-1"/>
<path d="M198.5 1365.1L202.5 1364.9L206.6 1364.8L210.6 1364.6L214.6 1364.4L218.6 1364.1L222.7 1363.9L226.7 1363.6L230.7 1363.3L234.7 1363.0L238.8 1362.7L242.8 1362.3L246.8 1361.9L250.8 1361.5L254.8 1361.1L258.8 1360.6L262.8 1360.1L266.8 1359.6L270.8 1359.0L274.8 1358.4L278.8 1357.7L282.8 1357.0L286.7 1356.3L290.7 1355.5L294.6 1354.7L298.6 1353.9L302.5 1353.0L306.4 1352.0L310.3 1351.0L314.2 1350.0L318.1 1348.9L322.0 1347.7L325.8 1346.5L329.6 1345.2L333.4 1343.9L337.2 1342.5L341.0 1341.0L344.7 1339.5L348.4 1337.8L352.1 1336.2L355.7 1334.4L359.3 1332.6L362.8 1330.6L366.3 1328.6L369.8 1326.6L373.2 1324.4L376.5 1322.1L379.8 1319.8L383.1 1317.4L386.2 1314.9L389.3 1312.3L392.3 1309.6L395.2 1306.8L398.1 1304.0L400.9 1301.1L403.6 1298.1L406.3 1295.1L408.9 1292.0L411.4 1288.8L413.8 1285.6L416.2 1282.3L418.5 1279.0L420.7 1275.6L422.9 1272.2L425.0 1268.8L427.0 1265.3L428.9 1261.8L430.8 1258.2L432.7 1254.6L434.4 1251.0L436.1 1247.3L437.8 1243.7L439.4 1239.9L440.9 1236.2L442.4 1232.4L443.8 1228.7L445.1 1224.9L446.4 1221.0L447.6 1217.2L448.8 1213.4L450.0 1209.5L451.0 1205.6L452.1 1201.7L453.1 1197.8L454.0 1193.9L454.9 1189.9L455.8 1186.0L456.6 1182.0L457.4 1178.1L458.1 1174.1L458.8 1170.2L459.5 1166.2L460.2 1162.2L460.8 1158.2L461.4 1154.2L461.9 1150.2L462.5 1146.2L463.0 1142.2L463.5 1138.2L463.9 1134.2L464.4 1130.2L464.8 1126.2L465.3 1122.2L465.7 1118.2L466.1 1114.2L466.5 1110.1L466.8 1106.1L467.2 1102.1L467.6 1098.1L468.0 1094.1L468.3 1090.1L468.7 1086.0L469.0 1082.0L469.4 1078.0L469.7 1074.0L470.1 1070.0L470.4 1066.0L470.8 1061.9L471.1 1057.9L471.4 1053.9L471.7 1049.9L472.1 1045.9L472.4 1041.8L472.7 1037.8L473.0 1033.8L473.2 1029.8L473.5 1025.7L473.8 1021.7L474.1 1017.7L474.3 1013.7L474.6 1009.6L474.8 1005.6L475.1 1001.6L475.3 997.6L475.5 993.5L475.7 989.5L475.9 985.5L476.1 981.4L476.3 977.4L476.5 973.4L476.6 969.4L476.8 965.3L476.9 961.3L477.1 957.3L477.2 953.2L477.3 949.2L477.4 945.2L477.5 941.1L477.6 937.1L477.7 933.1L477.7 929.0L477.8 925.0" stroke="#ff0000" stroke-dasharray="8.8 9.86"/>
<path d="M198.5 1341.5L202.5 1341.2L206.6 1340.8L210.6 1340.3L214.6 1339.8L218.6 1339.2L222.6 1338.5L226.6 1337.8L230.5 1336.9L234.5 1336.1L238.4 1335.1L242.3 1334.1L246.2 1333.0L250.1 1331.8L254.0 1330.6L257.8 1329.3L261.6 1328.0L265.4 1326.5L269.2 1325.0L272.9 1323.5L276.6 1321.9L280.3 1320.2L284.0 1318.4L287.6 1316.6L291.1 1314.7L294.7 1312.7L298.2 1310.7L301.6 1308.6L305.1 1306.4L308.4 1304.2L311.8 1301.9L315.0 1299.5L318.3 1297.0L321.5 1294.5L324.6 1291.9L327.6 1289.3L330.6 1286.6L333.6 1283.8L336.5 1281.0L339.3 1278.0L342.0 1275.1L344.7 1272.0L347.3 1268.9L349.8 1265.7L352.2 1262.5L354.6 1259.2L356.9 1255.9L359.1 1252.5L361.2 1249.0L363.3 1245.6L365.3 1242.0L367.2 1238.5L369.1 1234.9L370.9 1231.2L372.6 1227.6L374.3 1223.9L375.9 1220.2L377.4 1216.4L379.0 1212.7L380.4 1208.9L381.8 1205.1L383.1 1201.3L384.4 1197.5L385.7 1193.6L386.9 1189.7L388.1 1185.9L389.2 1182.0L390.3 1178.1L391.4 1174.2L392.4 1170.2L393.4 1166.3L394.3 1162.4L395.2 1158.4L396.1 1154.5L397.0 1150.5L397.8 1146.6L398.6 1142.6L399.4 1138.6L400.1 1134.6L400.8 1130.7L401.5 1126.7L402.1 1122.7L402.8 1118.7L403.4 1114.7L403.9 1110.7L404.5 1106.6L405.0 1102.6L405.5 1098.6L406.0 1094.6L406.5 1090.6L407.0 1086.5L407.4 1082.5L407.8 1078.5L408.2 1074.5L408.6 1070.4L408.9 1066.4L409.3 1062.4L409.6 1058.3L410.0 1054.3L410.3 1050.3L410.6 1046.2L410.9 1042.2L411.2 1038.1L411.4 1034.1L411.7 1030.1L412.0 1026.0L412.2 1022.0L412.5 1017.9L412.7 1013.9L412.9 1009.9L413.2 1005.8L413.4 1001.8L413.6 997.7L413.9 993.7L414.1 989.6L414.3 985.6L414.6 981.6L414.8 977.5L415.0 973.5L415.3 969.4L415.5 965.4L415.8 961.3L416.1 957.3L416.3 953.3L416.6 949.2L416.9 945.2L417.2 941.1L417.5 937.1L417.8 933.1L418.2 929.0L418.5 925.0" stroke="#00ff00" stroke-dasharray="36.5 10.9 16.6 10.9"/>
<path d="M198.5 1317.8L202.5 1317.2L206.5 1316.4L210.5 1315.6L214.4 1314.7L218.4 1313.6L222.3 1312.5L226.1 1311.2L230.0 1309.9L233.8 1308.4L237.5 1306.8L241.2 1305.2L244.9 1303.4L248.5 1301.5L252.0 1299.5L255.6 1297.5L259.0 1295.3L262.4 1293.1L265.7 1290.7L269.0 1288.3L272.2 1285.8L275.3 1283.2L278.4 1280.6L281.4 1277.9L284.4 1275.1L287.2 1272.2L290.1 1269.3L292.8 1266.3L295.5 1263.2L298.1 1260.1L300.7 1256.9L303.1 1253.7L305.6 1250.4L307.9 1247.1L310.2 1243.8L312.5 1240.4L314.7 1237.0L316.8 1233.5L318.8 1230.0L320.8 1226.4L322.8 1222.9L324.7 1219.3L326.5 1215.6L328.3 1212.0L330.0 1208.3L331.7 1204.6L333.3 1200.9L334.9 1197.1L336.4 1193.3L337.9 1189.6L339.3 1185.8L340.7 1181.9L342.0 1178.1L343.3 1174.2L344.6 1170.4L345.8 1166.5L347.0 1162.6L348.1 1158.7L349.2 1154.8L350.3 1150.9L351.3 1146.9L352.3 1143.0L353.3 1139.0L354.2 1135.1L355.1 1131.1L356.0 1127.1L356.8 1123.2L357.6 1119.2L358.4 1115.2L359.1 1111.2L359.9 1107.2L360.6 1103.2L361.2 1099.2L361.9 1095.2L362.5 1091.1L363.1 1087.1L363.7 1083.1L364.2 1079.1L364.7 1075.0L365.3 1071.0L365.7 1067.0L366.2 1062.9L366.7 1058.9L367.1 1054.8L367.5 1050.8L367.9 1046.8L368.3 1042.7L368.6 1038.7L369.0 1034.6L369.3 1030.5L369.6 1026.5L369.9 1022.4L370.2 1018.4L370.5 1014.3L370.8 1010.3L371.0 1006.2L371.3 1002.2L371.5 998.1L371.7 994.0L372.0 990.0L372.2 985.9L372.4 981.9L372.6 977.8L372.8 973.7L373.0 969.7L373.2 965.6L373.4 961.6L373.6 957.5L373.8 953.4L374.0 949.4L374.2 945.3L374.4 941.3L374.6 937.2L374.8 933.1L375.0 929.1L375.2 925.0" stroke="#0000ff" stroke-linecap="round"/>
<path d="M198.5 1294.2L202.2 1292.6L205.9 1291.0L209.6 1289.2L213.2 1287.4L216.8 1285.5L220.3 1283.5L223.8 1281.4L227.2 1279.2L230.6 1277.0L233.9 1274.6L237.1 1272.2L240.3 1269.7L243.4 1267.1L246.5 1264.4L249.4 1261.6L252.4 1258.8L255.2 1255.9L258.0 1253.0L260.7 1250.0L263.3 1246.9L265.9 1243.8L268.4 1240.6L270.9 1237.3L273.2 1234.0L275.5 1230.7L277.8 1227.3L279.9 1223.9L282.0 1220.4L284.1 1216.9L286.0 1213.4L288.0 1209.8L289.8 1206.2L291.6 1202.6L293.4 1198.9L295.1 1195.2L296.7 1191.5L298.3 1187.8L299.8 1184.0L301.3 1180.3L302.7 1176.5L304.1 1172.7L305.5 1168.8L306.8 1165.0L308.1 1161.1L309.3 1157.3L310.5 1153.4L311.6 1149.5L312.7 1145.6L313.8 1141.7L314.9 1137.8L315.9 1133.9L316.9 1129.9L317.8 1126.0L318.8 1122.0L319.7 1118.1L320.6 1114.1L321.4 1110.2L322.3 1106.2L323.1 1102.2L323.9 1098.3L324.6 1094.3L325.4 1090.3L326.1 1086.3L326.8 1082.3L327.4 1078.3L328.1 1074.3L328.7 1070.3L329.4 1066.3L330.0 1062.3L330.5 1058.3L331.1 1054.2L331.6 1050.2L332.2 1046.2L332.7 1042.2L333.2 1038.2L333.6 1034.1L334.1 1030.1L334.5 1026.1L335.0 1022.0L335.4 1018.0L335.8 1014.0L336.2 1009.9L336.5 1005.9L336.9 1001.9L337.3 997.8L337.6 993.8L337.9 989.7L338.3 985.7L338.6 981.6L338.9 977.6L339.2 973.6L339.5 969.5L339.8 965.5L340.0 961.4L340.3 957.4L340.6 953.3L340.8 949.3L341.1 945.2L341.3 941.2L341.6 937.1L341.8 933.1L342.1 929.1L342.3 925.0" stroke="#000000" stroke-dasharray="37.45 37.45" stroke-dashoffset="-1"/>
</g>
<path d="M418.1 1520L439.1 1541M418.1 1541L439.1 1520M581.7 1496.9L602.7 1517.9M581.7 1517.9L602.7 1496.9M703.1 1485.6L724.1 1506.6M703.1 1506.6L724.1 1485.6" stroke="#ff0000" stroke-width="5.5" stroke-linecap="butt" fill="none"/>
<clipPath id="clipe"><rect x="946" y="939.8" width="623.5" height="602.8"/></clipPath>
<rect x="944.5" y="939.8" width="619" height="590.8" fill="none" stroke="#4a4a4a" stroke-width="3"/>
<path d="M1082.1 1530.6V1515.6M1082.1 939.8V954.8M1219.6 1530.6V1515.6M1219.6 939.8V954.8M1357.2 1530.6V1515.6M1357.2 939.8V954.8M1494.7 1530.6V1515.6M1494.7 939.8V954.8M944.5 1412.4H959.5M1563.5 1412.4H1548.5M944.5 1294.3H959.5M1563.5 1294.3H1548.5M944.5 1176.1H959.5M1563.5 1176.1H1548.5M944.5 1058H959.5M1563.5 1058H1548.5" stroke="#4a4a4a" stroke-width="3" fill="none"/>
<g clip-path="url(#clipe)" fill="none" stroke-width="8.5" stroke-linejoin="miter">
<path d="M944.5 1507.0L948.4 1505.9L952.4 1504.9L956.4 1504.0L960.3 1503.1L964.3 1502.2L968.3 1501.4L972.3 1500.6L976.3 1499.9L980.4 1499.2L984.4 1498.5L988.4 1497.9L992.4 1497.3L996.5 1496.8L1000.5 1496.3L1004.6 1495.9L1008.7 1495.4L1012.7 1495.1L1016.8 1494.7L1020.9 1494.4L1024.9 1494.2L1029.0 1494.0L1033.1 1493.8L1037.1 1493.6L1041.2 1493.5L1045.3 1493.4L1049.4 1493.3L1053.5 1493.3L1057.5 1493.3L1061.6 1493.3L1065.7 1493.4L1069.8 1493.5L1073.9 1493.6L1077.9 1493.7L1082.0 1493.9L1086.1 1494.1L1090.2 1494.3L1094.2 1494.6L1098.3 1494.8L1102.4 1495.1L1106.4 1495.4L1110.5 1495.8L1114.6 1496.1L1118.6 1496.5L1122.7 1496.9L1126.7 1497.3L1130.8 1497.8L1134.8 1498.2L1138.9 1498.7L1143.0 1499.2L1147.0 1499.7L1151.0 1500.2L1155.1 1500.7L1159.1 1501.3L1163.2 1501.9L1167.2 1502.4L1171.2 1503.0L1175.3 1503.6L1179.3 1504.2L1183.3 1504.9L1187.4 1505.5L1191.4 1506.1L1195.4 1506.8L1199.5 1507.4L1203.5 1508.1L1207.5 1508.8" stroke="#ff0000" stroke-linecap="round"/>
<path d="M944.5 1483.3L948.5 1482.7L952.5 1482.2L956.6 1481.6L960.6 1481.1L964.6 1480.6L968.7 1480.1L972.7 1479.7L976.7 1479.3L980.8 1478.9L984.8 1478.5L988.9 1478.1L992.9 1477.7L997.0 1477.4L1001.0 1477.1L1005.1 1476.8L1009.1 1476.5L1013.2 1476.3L1017.2 1476.0L1021.3 1475.8L1025.4 1475.6L1029.4 1475.4L1033.5 1475.2L1037.5 1475.0L1041.6 1474.9L1045.7 1474.8L1049.7 1474.6L1053.8 1474.5L1057.8 1474.5L1061.9 1474.4L1066.0 1474.3L1070.0 1474.3L1074.1 1474.2L1078.1 1474.2L1082.2 1474.2L1086.3 1474.2L1090.3 1474.2L1094.4 1474.3L1098.5 1474.3L1102.5 1474.4L1106.6 1474.4L1110.6 1474.5L1114.7 1474.6L1118.8 1474.6L1122.8 1474.7L1126.9 1474.9L1131.0 1475.0L1135.0 1475.1L1139.1 1475.2L1143.1 1475.4L1147.2 1475.5L1151.3 1475.7L1155.3 1475.8L1159.4 1476.0L1163.4 1476.2L1167.5 1476.3L1171.6 1476.5L1175.6 1476.7L1179.7 1476.9L1183.7 1477.1L1187.8 1477.3L1191.8 1477.5L1195.9 1477.7L1200.0 1477.9L1204.0 1478.1L1208.1 1478.4L1212.1 1478.6L1216.2 1478.8L1220.2 1479.0L1224.3 1479.2L1228.4 1479.5L1232.4 1479.7L1236.5 1479.9L1240.5 1480.1L1244.6 1480.4L1248.6 1480.6L1252.7 1480.8L1256.8 1481.0L1260.8 1481.3L1264.9 1481.5L1268.9 1481.7L1273.0 1481.9L1277.0 1482.1L1281.1 1482.3L1285.2 1482.5L1289.2 1482.7L1293.3 1482.9L1297.3 1483.1L1301.4 1483.3L1305.4 1483.5L1309.5 1483.7L1313.6 1483.9L1317.6 1484.0L1321.7 1484.2L1325.7 1484.3L1329.8 1484.5" stroke="#00ff00" stroke-dasharray="37.45 37.45" stroke-dashoffset="-1"/>
<path d="M944.5 1459.7L948.6 1459.4L952.6 1459.1L956.7 1458.9L960.7 1458.6L964.8 1458.4L968.8 1458.1L972.9 1457.9L976.9 1457.7L981.0 1457.5L985.0 1457.3L989.1 1457.1L993.1 1457.0L997.2 1456.8L1001.3 1456.7L1005.3 1456.5L1009.4 1456.4L1013.4 1456.3L1017.5 1456.2L1021.6 1456.1L1025.6 1456.0L1029.7 1455.9L1033.7 1455.9L1037.8 1455.8L1041.9 1455.8L1045.9 1455.7L1050.0 1455.7L1054.0 1455.7L1058.1 1455.7L1062.2 1455.7L1066.2 1455.7L1070.3 1455.7L1074.3 1455.7L1078.4 1455.7L1082.5 1455.8L1086.5 1455.8L1090.6 1455.9L1094.7 1455.9L1098.7 1456.0L1102.8 1456.1L1106.8 1456.2L1110.9 1456.2L1114.9 1456.3L1119.0 1456.5L1123.1 1456.6L1127.1 1456.7L1131.2 1456.8L1135.2 1456.9L1139.3 1457.1L1143.4 1457.2L1147.4 1457.4L1151.5 1457.5L1155.5 1457.7L1159.6 1457.8L1163.6 1458.0L1167.7 1458.2L1171.8 1458.4L1175.8 1458.5L1179.9 1458.7L1183.9 1458.9L1188.0 1459.1L1192.0 1459.3L1196.1 1459.5L1200.2 1459.8L1204.2 1460.0L1208.3 1460.2L1212.3 1460.4L1216.4 1460.7L1220.4 1460.9L1224.5 1461.1L1228.5 1461.4L1232.6 1461.6L1236.6 1461.9L1240.7 1462.1L1244.7 1462.4L1248.8 1462.6L1252.9 1462.9L1256.9 1463.1L1261.0 1463.4L1265.0 1463.7L1269.1 1463.9L1273.1 1464.2L1277.2 1464.5L1281.2 1464.7L1285.3 1465.0L1289.3 1465.3L1293.4 1465.6L1297.4 1465.8L1301.5 1466.1L1305.5 1466.4L1309.6 1466.7L1313.6 1467.0L1317.7 1467.2L1321.7 1467.5L1325.8 1467.8L1329.8 1468.1L1333.9 1468.4L1337.9 1468.6L1342.0 1468.9L1346.0 1469.2L1350.1 1469.5L1354.1 1469.8L1358.2 1470.1L1362.2 1470.3L1366.3 1470.6L1370.3 1470.9L1374.4 1471.2L1378.4 1471.4L1382.5 1471.7L1386.5 1472.0L1390.6 1472.3L1394.6 1472.5L1398.7 1472.8L1402.8 1473.1L1406.8 1473.3L1410.9 1473.6L1414.9 1473.9L1419.0 1474.1L1423.0 1474.4L1427.1 1474.6L1431.1 1474.9L1435.2 1475.1L1439.2 1475.3L1443.3 1475.6L1447.3 1475.8L1451.4 1476.0L1455.4 1476.3L1459.5 1476.5" stroke="#0000ff" stroke-dasharray="8.8 9.86"/>
<path d="M944.5 1436.0L948.5 1435.9L952.6 1435.9L956.6 1435.8L960.6 1435.8L964.6 1435.7L968.7 1435.7L972.7 1435.6L976.7 1435.6L980.8 1435.6L984.8 1435.5L988.8 1435.5L992.8 1435.5L996.9 1435.5L1000.9 1435.5L1004.9 1435.5L1009.0 1435.5L1013.0 1435.5L1017.0 1435.5L1021.1 1435.6L1025.1 1435.6L1029.1 1435.6L1033.1 1435.7L1037.2 1435.7L1041.2 1435.8L1045.2 1435.8L1049.3 1435.9L1053.3 1435.9L1057.3 1436.0L1061.3 1436.1L1065.4 1436.2L1069.4 1436.2L1073.4 1436.3L1077.5 1436.4L1081.5 1436.5L1085.5 1436.6L1089.5 1436.7L1093.6 1436.8L1097.6 1437.0L1101.6 1437.1L1105.6 1437.2L1109.7 1437.3L1113.7 1437.5L1117.7 1437.6L1121.8 1437.8L1125.8 1437.9L1129.8 1438.1L1133.8 1438.2L1137.9 1438.4L1141.9 1438.6L1145.9 1438.7L1149.9 1438.9L1154.0 1439.1L1158.0 1439.3L1162.0 1439.5L1166.0 1439.7L1170.1 1439.9L1174.1 1440.1L1178.1 1440.3L1182.1 1440.5L1186.2 1440.7L1190.2 1440.9L1194.2 1441.2L1198.2 1441.4L1202.2 1441.6L1206.3 1441.9L1210.3 1442.1L1214.3 1442.4L1218.3 1442.6L1222.4 1442.9L1226.4 1443.1L1230.4 1443.4L1234.4 1443.7L1238.4 1443.9L1242.5 1444.2L1246.5 1444.5L1250.5 1444.8L1254.5 1445.1L1258.5 1445.4L1262.6 1445.7L1266.6 1446.0L1270.6 1446.3L1274.6 1446.6L1278.6 1446.9L1282.6 1447.2L1286.7 1447.5L1290.7 1447.8L1294.7 1448.2L1298.7 1448.5L1302.7 1448.8L1306.7 1449.2L1310.8 1449.5L1314.8 1449.9L1318.8 1450.2L1322.8 1450.6L1326.8 1450.9L1330.8 1451.3L1334.8 1451.6L1338.8 1452.0L1342.9 1452.4L1346.9 1452.7L1350.9 1453.1L1354.9 1453.5L1358.9 1453.9L1362.9 1454.3L1366.9 1454.7L1370.9 1455.0L1374.9 1455.4L1379.0 1455.8L1383.0 1456.2L1387.0 1456.6L1391.0 1457.0L1395.0 1457.4L1399.0 1457.8L1403.0 1458.2L1407.0 1458.6L1411.0 1459.0L1415.0 1459.4L1419.0 1459.8L1423.1 1460.2L1427.1 1460.7L1431.1 1461.1L1435.1 1461.5L1439.1 1461.9L1443.1 1462.3L1447.1 1462.7L1451.1 1463.1L1455.1 1463.5L1459.1 1463.9L1463.2 1464.2L1467.2 1464.6L1471.2 1465.0L1475.2 1465.4L1479.2 1465.8L1483.2 1466.2L1487.2 1466.6L1491.2 1466.9L1495.2 1467.3L1499.3 1467.7L1503.3 1468.1L1507.3 1468.4L1511.3 1468.8L1515.3 1469.1L1519.3 1469.5L1523.3 1469.8L1527.3 1470.2L1531.4 1470.5L1535.4 1470.8L1539.4 1471.2L1543.4 1471.5L1547.4 1471.8L1551.4 1472.1L1555.5 1472.4L1559.5 1472.7L1563.5 1473.0" stroke="#000000" stroke-dasharray="36.5 10.9 16.6 10.9"/>
<path d="M944.5 1413.0L1563.5 1413.0" stroke="#00ffff"/>
<path d="M944.5 1388.8L948.5 1388.2L952.5 1387.7L956.5 1387.2L960.5 1386.8L964.5 1386.4L968.5 1386.0L972.5 1385.7L976.5 1385.4L980.5 1385.1L984.6 1384.9L988.6 1384.7L992.6 1384.5L996.6 1384.4L1000.6 1384.3L1004.7 1384.1L1008.7 1384.0L1012.7 1383.9L1016.7 1383.8L1020.8 1383.8L1024.8 1383.7L1028.8 1383.6L1032.8 1383.5L1036.9 1383.4L1040.9 1383.3L1044.9 1383.2L1048.9 1383.1L1053.0 1383.0L1057.0 1382.8L1061.0 1382.7L1065.0 1382.5L1069.1 1382.3L1073.1 1382.0L1077.1 1381.8L1081.1 1381.5L1085.1 1381.1L1089.1 1380.8L1093.1 1380.4L1097.1 1379.9L1101.1 1379.4L1105.1 1378.9L1109.1 1378.3L1113.1 1377.7L1117.1 1377.0L1121.0 1376.3L1125.0 1375.5L1128.9 1374.7L1132.8 1373.8L1136.7 1372.8L1140.6 1371.8L1144.5 1370.7L1148.4 1369.6L1152.2 1368.4L1156.0 1367.1L1159.8 1365.7L1163.6 1364.3L1167.3 1362.8L1171.0 1361.2L1174.7 1359.5L1178.3 1357.7L1181.9 1355.9L1185.4 1353.9L1188.9 1351.9L1192.3 1349.8L1195.6 1347.6L1198.9 1345.2L1202.1 1342.8L1205.3 1340.3L1208.3 1337.7L1211.3 1335.0L1214.2 1332.1L1216.9 1329.2L1219.6 1326.2L1222.2 1323.1L1224.7 1319.9L1227.1 1316.7L1229.3 1313.4L1231.5 1310.0L1233.6 1306.5L1235.6 1303.0L1237.5 1299.5L1239.3 1295.9L1241.0 1292.2L1242.6 1288.6L1244.1 1284.8L1245.5 1281.1L1246.9 1277.3L1248.1 1273.4L1249.3 1269.6L1250.4 1265.7L1251.5 1261.8L1252.5 1257.9L1253.4 1254.0L1254.2 1250.1L1255.0 1246.1L1255.8 1242.2L1256.5 1238.2L1257.2 1234.2L1257.8 1230.3L1258.4 1226.3L1259.0 1222.3L1259.5 1218.3L1260.1 1214.3L1260.6 1210.3L1261.1 1206.3L1261.6 1202.3L1262.1 1198.3L1262.5 1194.3L1263.0 1190.3L1263.4 1186.3L1263.8 1182.3L1264.2 1178.3L1264.6 1174.3L1265.0 1170.3L1265.3 1166.3L1265.7 1162.3L1266.0 1158.3L1266.4 1154.3L1266.7 1150.3L1267.0 1146.2L1267.3 1142.2L1267.6 1138.2L1267.9 1134.2L1268.1 1130.2L1268.4 1126.2L1268.6 1122.1L1268.9 1118.1L1269.1 1114.1L1269.3 1110.1L1269.5 1106.1L1269.7 1102.0L1269.9 1098.0L1270.1 1094.0L1270.3 1090.0L1270.4 1086.0L1270.6 1081.9L1270.8 1077.9L1270.9 1073.9L1271.1 1069.9L1271.2 1065.8L1271.4 1061.8L1271.5 1057.8L1271.6 1053.8L1271.8 1049.7L1271.9 1045.7L1272.0 1041.7L1272.1 1037.7L1272.2 1033.6L1272.4 1029.6L1272.5 1025.6L1272.6 1021.6L1272.7 1017.5L1272.8 1013.5L1272.9 1009.5L1273.0 1005.5L1273.1 1001.5L1273.2 997.4L1273.3 993.4L1273.4 989.4L1273.6 985.4L1273.7 981.3L1273.8 977.3L1273.9 973.3L1274.0 969.3L1274.1 965.2L1274.3 961.2L1274.4 957.2L1274.5 953.2L1274.7 949.1L1274.8 945.1L1275.0 941.1L1275.1 937.1L1275.3 933.0L1275.4 929.0L1275.6 925.0" stroke="#ff00ff" stroke-dasharray="37.45 37.45" stroke-dashoffset="-1"/>
<path d="M944.5 1365.1L948.5 1364.9L952.6 1364.6L956.6 1364.3L960.6 1364.0L964.6 1363.7L968.6 1363.4L972.7 1363.0L976.7 1362.6L980.7 1362.2L984.7 1361.7L988.7 1361.2L992.7 1360.6L996.7 1360.0L1000.6 1359.4L1004.6 1358.7L1008.6 1358.0L1012.6 1357.3L1016.5 1356.4L1020.4 1355.6L1024.4 1354.7L1028.3 1353.7L1032.2 1352.6L1036.1 1351.5L1039.9 1350.3L1043.7 1349.1L1047.6 1347.8L1051.3 1346.4L1055.1 1344.9L1058.8 1343.4L1062.5 1341.8L1066.2 1340.1L1069.8 1338.3L1073.4 1336.4L1076.9 1334.4L1080.4 1332.4L1083.8 1330.3L1087.2 1328.0L1090.5 1325.7L1093.7 1323.4L1096.9 1320.9L1100.0 1318.4L1103.1 1315.7L1106.1 1313.0L1109.0 1310.2L1111.8 1307.4L1114.6 1304.4L1117.3 1301.4L1119.8 1298.3L1122.3 1295.1L1124.7 1291.9L1127.0 1288.5L1129.2 1285.2L1131.3 1281.7L1133.4 1278.3L1135.3 1274.7L1137.2 1271.1L1138.9 1267.5L1140.6 1263.9L1142.2 1260.2L1143.8 1256.4L1145.3 1252.7L1146.7 1248.9L1148.0 1245.1L1149.3 1241.3L1150.5 1237.4L1151.6 1233.6L1152.7 1229.7L1153.8 1225.8L1154.8 1221.9L1155.7 1218.0L1156.6 1214.0L1157.5 1210.1L1158.3 1206.1L1159.1 1202.2L1159.8 1198.2L1160.5 1194.2L1161.2 1190.3L1161.9 1186.3L1162.5 1182.3L1163.1 1178.3L1163.7 1174.3L1164.3 1170.3L1164.8 1166.3L1165.3 1162.3L1165.8 1158.3L1166.3 1154.3L1166.8 1150.3L1167.3 1146.3L1167.8 1142.3L1168.2 1138.3L1168.6 1134.3L1169.1 1130.3L1169.5 1126.3L1169.9 1122.3L1170.3 1118.3L1170.7 1114.2L1171.0 1110.2L1171.4 1106.2L1171.8 1102.2L1172.1 1098.2L1172.4 1094.2L1172.8 1090.1L1173.1 1086.1L1173.4 1082.1L1173.7 1078.1L1173.9 1074.0L1174.2 1070.0L1174.5 1066.0L1174.8 1062.0L1175.0 1057.9L1175.3 1053.9L1175.5 1049.9L1175.7 1045.9L1176.0 1041.8L1176.2 1037.8L1176.4 1033.8L1176.6 1029.8L1176.8 1025.7L1177.0 1021.7L1177.2 1017.7L1177.4 1013.6L1177.6 1009.6L1177.8 1005.6L1177.9 1001.6L1178.1 997.5L1178.3 993.5L1178.5 989.5L1178.6 985.4L1178.8 981.4L1178.9 977.4L1179.1 973.4L1179.3 969.3L1179.4 965.3L1179.6 961.3L1179.7 957.2L1179.9 953.2L1180.1 949.2L1180.2 945.1L1180.4 941.1L1180.5 937.1L1180.7 933.1L1180.8 929.0L1181.0 925.0" stroke="#ff0000" stroke-dasharray="8.8 9.86"/>
<path d="M944.5 1341.5L948.5 1340.9L952.5 1340.3L956.5 1339.5L960.4 1338.7L964.4 1337.8L968.3 1336.7L972.2 1335.6L976.1 1334.4L979.9 1333.2L983.7 1331.8L987.5 1330.3L991.3 1328.8L995.0 1327.2L998.6 1325.5L1002.3 1323.7L1005.9 1321.8L1009.4 1319.8L1012.9 1317.8L1016.4 1315.7L1019.8 1313.5L1023.2 1311.2L1026.5 1308.9L1029.7 1306.5L1032.9 1304.0L1036.0 1301.4L1039.1 1298.8L1042.1 1296.1L1045.1 1293.3L1048.0 1290.5L1050.8 1287.6L1053.5 1284.6L1056.2 1281.5L1058.8 1278.4L1061.4 1275.3L1063.8 1272.0L1066.2 1268.8L1068.5 1265.4L1070.7 1262.0L1072.8 1258.6L1074.9 1255.1L1076.8 1251.5L1078.7 1248.0L1080.5 1244.3L1082.2 1240.7L1083.9 1237.0L1085.5 1233.2L1087.0 1229.5L1088.5 1225.7L1089.9 1221.9L1091.2 1218.1L1092.5 1214.2L1093.7 1210.4L1094.9 1206.5L1096.0 1202.6L1097.1 1198.7L1098.1 1194.8L1099.1 1190.9L1100.1 1186.9L1101.0 1183.0L1101.9 1179.0L1102.7 1175.1L1103.6 1171.1L1104.4 1167.1L1105.1 1163.1L1105.9 1159.2L1106.6 1155.2L1107.3 1151.2L1107.9 1147.2L1108.5 1143.2L1109.1 1139.2L1109.7 1135.2L1110.3 1131.1L1110.8 1127.1L1111.3 1123.1L1111.8 1119.1L1112.3 1115.1L1112.7 1111.0L1113.2 1107.0L1113.6 1103.0L1114.0 1098.9L1114.3 1094.9L1114.7 1090.9L1115.0 1086.8L1115.4 1082.8L1115.7 1078.8L1116.0 1074.7L1116.3 1070.7L1116.5 1066.6L1116.8 1062.6L1117.0 1058.6L1117.3 1054.5L1117.5 1050.5L1117.7 1046.4L1117.9 1042.4L1118.1 1038.3L1118.3 1034.3L1118.5 1030.2L1118.7 1026.2L1118.9 1022.1L1119.0 1018.1L1119.2 1014.0L1119.4 1010.0L1119.5 1005.9L1119.7 1001.9L1119.8 997.8L1120.0 993.8L1120.2 989.7L1120.3 985.7L1120.5 981.7L1120.6 977.6L1120.8 973.6L1121.0 969.5L1121.2 965.5L1121.3 961.4L1121.5 957.4L1121.7 953.3L1121.9 949.3L1122.1 945.2L1122.3 941.2L1122.6 937.1L1122.8 933.1L1123.1 929.0L1123.3 925.0" stroke="#00ff00" stroke-dasharray="36.5 10.9 16.6 10.9"/>
<path d="M944.5 1317.8L948.3 1316.4L952.1 1315.0L955.9 1313.4L959.6 1311.8L963.3 1310.0L966.9 1308.2L970.5 1306.3L974.0 1304.2L977.5 1302.1L980.9 1299.9L984.2 1297.6L987.5 1295.2L990.7 1292.7L993.9 1290.1L997.0 1287.5L1000.0 1284.7L1002.9 1281.9L1005.8 1279.0L1008.6 1276.1L1011.3 1273.0L1013.9 1269.9L1016.5 1266.8L1019.0 1263.6L1021.4 1260.3L1023.7 1257.0L1026.0 1253.6L1028.2 1250.2L1030.3 1246.7L1032.3 1243.2L1034.3 1239.6L1036.2 1236.0L1038.1 1232.4L1039.9 1228.8L1041.6 1225.1L1043.3 1221.4L1044.9 1217.6L1046.4 1213.9L1047.9 1210.1L1049.4 1206.3L1050.8 1202.5L1052.1 1198.6L1053.4 1194.8L1054.7 1190.9L1055.9 1187.0L1057.0 1183.1L1058.2 1179.2L1059.2 1175.3L1060.3 1171.4L1061.3 1167.4L1062.2 1163.5L1063.2 1159.5L1064.1 1155.5L1064.9 1151.6L1065.8 1147.6L1066.6 1143.6L1067.4 1139.6L1068.1 1135.6L1068.8 1131.6L1069.5 1127.6L1070.2 1123.6L1070.9 1119.6L1071.5 1115.6L1072.1 1111.5L1072.7 1107.5L1073.3 1103.5L1073.8 1099.5L1074.3 1095.4L1074.8 1091.4L1075.3 1087.4L1075.8 1083.3L1076.2 1079.3L1076.6 1075.2L1077.0 1071.2L1077.4 1067.1L1077.8 1063.1L1078.2 1059.0L1078.5 1055.0L1078.8 1050.9L1079.2 1046.9L1079.5 1042.8L1079.8 1038.8L1080.0 1034.7L1080.3 1030.6L1080.6 1026.6L1080.8 1022.5L1081.0 1018.5L1081.3 1014.4L1081.5 1010.3L1081.7 1006.3L1081.9 1002.2L1082.1 998.1L1082.3 994.1L1082.5 990.0L1082.6 986.0L1082.8 981.9L1083.0 977.8L1083.2 973.8L1083.3 969.7L1083.5 965.6L1083.7 961.6L1083.8 957.5L1084.0 953.4L1084.2 949.4L1084.3 945.3L1084.5 941.3L1084.7 937.2L1084.8 933.1L1085.0 929.1L1085.2 925.0" stroke="#0000ff" stroke-linecap="round"/>
<path d="M944.5 1294.2L947.9 1292.0L951.2 1289.7L954.5 1287.3L957.7 1284.9L960.9 1282.4L964.0 1279.8L967.1 1277.1L970.1 1274.4L973.0 1271.6L975.8 1268.7L978.6 1265.8L981.4 1262.8L984.0 1259.7L986.6 1256.6L989.1 1253.4L991.5 1250.2L993.9 1246.9L996.2 1243.6L998.5 1240.2L1000.6 1236.8L1002.7 1233.3L1004.7 1229.8L1006.7 1226.3L1008.6 1222.7L1010.4 1219.1L1012.2 1215.4L1013.9 1211.8L1015.5 1208.1L1017.1 1204.3L1018.6 1200.6L1020.1 1196.8L1021.5 1193.0L1022.9 1189.2L1024.2 1185.4L1025.4 1181.5L1026.6 1177.7L1027.8 1173.8L1028.9 1169.9L1030.0 1166.0L1031.0 1162.1L1032.0 1158.1L1033.0 1154.2L1033.9 1150.3L1034.8 1146.3L1035.7 1142.4L1036.5 1138.4L1037.3 1134.4L1038.0 1130.4L1038.8 1126.5L1039.5 1122.5L1040.2 1118.5L1040.8 1114.5L1041.5 1110.5L1042.1 1106.5L1042.7 1102.5L1043.3 1098.5L1043.8 1094.5L1044.4 1090.5L1044.9 1086.4L1045.4 1082.4L1045.9 1078.4L1046.4 1074.4L1046.9 1070.4L1047.3 1066.3L1047.8 1062.3L1048.2 1058.3L1048.6 1054.3L1049.0 1050.2L1049.4 1046.2L1049.8 1042.2L1050.2 1038.1L1050.5 1034.1L1050.9 1030.1L1051.2 1026.0L1051.5 1022.0L1051.9 1018.0L1052.2 1013.9L1052.5 1009.9L1052.8 1005.9L1053.0 1001.8L1053.3 997.8L1053.6 993.7L1053.8 989.7L1054.1 985.7L1054.3 981.6L1054.6 977.6L1054.8 973.5L1055.1 969.5L1055.3 965.4L1055.5 961.4L1055.7 957.4L1055.9 953.3L1056.2 949.3L1056.4 945.2L1056.6 941.2L1056.8 937.1L1057.0 933.1L1057.2 929.0L1057.4 925.0" stroke="#000000" stroke-dasharray="37.45 37.45" stroke-dashoffset="-1"/>
</g>
<path d="M1197 1498.9L1218 1519.9M1197 1519.9L1218 1498.9M1319.3 1474.2L1340.3 1495.2M1319.3 1495.2L1340.3 1474.2M1449 1466L1470 1487M1449 1487L1470 1466" stroke="#ff0000" stroke-width="5.5" stroke-linecap="butt" fill="none"/>
<g font-size="62" fill="#262626">
<text transform="translate(201.6 837.8) scale(1 1.06)" text-anchor="middle">0</text>
<text transform="translate(339.1 837.8) scale(1 1.06)" text-anchor="middle">20</text>
<text transform="translate(476.5 837.8) scale(1 1.06)" text-anchor="middle">40</text>
<text transform="translate(614 837.8) scale(1 1.06)" text-anchor="middle">60</text>
<text transform="translate(751.5 837.8) scale(1 1.06)" text-anchor="middle">80</text>
<text transform="translate(182.1 780.8) scale(1 1.06)" text-anchor="end">0</text>
<text transform="translate(182.1 662.4) scale(1 1.06)" text-anchor="end">1</text>
<text transform="translate(182.1 544) scale(1 1.06)" text-anchor="end">2</text>
<text transform="translate(182.1 425.5) scale(1 1.06)" text-anchor="end">3</text>
<text transform="translate(182.1 307.1) scale(1 1.06)" text-anchor="end">4</text>
<text transform="translate(947.8 837.8) scale(1 1.06)" text-anchor="middle">0</text>
<text transform="translate(1085.2 837.8) scale(1 1.06)" text-anchor="middle">20</text>
<text transform="translate(1222.6 837.8) scale(1 1.06)" text-anchor="middle">40</text>
<text transform="translate(1360.1 837.8) scale(1 1.06)" text-anchor="middle">60</text>
<text transform="translate(1497.5 837.8) scale(1 1.06)" text-anchor="middle">80</text>
<text transform="translate(928.3 780.8) scale(1 1.06)" text-anchor="end">0</text>
<text transform="translate(928.3 662.4) scale(1 1.06)" text-anchor="end">1</text>
<text transform="translate(928.3 544) scale(1 1.06)" text-anchor="end">2</text>
<text transform="translate(928.3 425.5) scale(1 1.06)" text-anchor="end">3</text>
<text transform="translate(928.3 307.1) scale(1 1.06)" text-anchor="end">4</text>
<text transform="translate(1694.5 837.8) scale(1 1.06)" text-anchor="middle">0</text>
<text transform="translate(1832 837.8) scale(1 1.06)" text-anchor="middle">20</text>
<text transform="translate(1969.5 837.8) scale(1 1.06)" text-anchor="middle">40</text>
<text transform="translate(2107 837.8) scale(1 1.06)" text-anchor="middle">60</text>
<text transform="translate(2244.5 837.8) scale(1 1.06)" text-anchor="middle">80</text>
<text transform="translate(1675 780.8) scale(1 1.06)" text-anchor="end">0</text>
<text transform="translate(1675 662.4) scale(1 1.06)" text-anchor="end">1</text>
<text transform="translate(1675 544) scale(1 1.06)" text-anchor="end">2</text>
<text transform="translate(1675 425.5) scale(1 1.06)" text-anchor="end">3</text>
<text transform="translate(1675 307.1) scale(1 1.06)" text-anchor="end">4</text>
<text transform="translate(198.5 1610.6) scale(1 1.06)" text-anchor="middle">0</text>
<text transform="translate(335.6 1610.6) scale(1 1.06)" text-anchor="middle">20</text>
<text transform="translate(472.6 1610.6) scale(1 1.06)" text-anchor="middle">40</text>
<text transform="translate(609.7 1610.6) scale(1 1.06)" text-anchor="middle">60</text>
<text transform="translate(746.8 1610.6) scale(1 1.06)" text-anchor="middle">80</text>
<text transform="translate(179 1553.6) scale(1 1.06)" text-anchor="end">0</text>
<text transform="translate(179 1435.4) scale(1 1.06)" text-anchor="end">1</text>
<text transform="translate(179 1317.3) scale(1 1.06)" text-anchor="end">2</text>
<text transform="translate(179 1199.1) scale(1 1.06)" text-anchor="end">3</text>
<text transform="translate(179 1081) scale(1 1.06)" text-anchor="end">4</text>
<text transform="translate(944.5 1610.6) scale(1 1.06)" text-anchor="middle">0</text>
<text transform="translate(1082.1 1610.6) scale(1 1.06)" text-anchor="middle">20</text>
<text transform="translate(1219.6 1610.6) scale(1 1.06)" text-anchor="middle">40</text>
<text transform="translate(1357.2 1610.6) scale(1 1.06)" text-anchor="middle">60</text>
<text transform="translate(1494.7 1610.6) scale(1 1.06)" text-anchor="middle">80</text>
<text transform="translate(925 1553.6) scale(1 1.06)" text-anchor="end">0</text>
<text transform="translate(925 1435.4) scale(1 1.06)" text-anchor="end">1</text>
<text transform="translate(925 1317.3) scale(1 1.06)" text-anchor="end">2</text>
<text transform="translate(925 1199.1) scale(1 1.06)" text-anchor="end">3</text>
<text transform="translate(925 1081) scale(1 1.06)" text-anchor="end">4</text>
</g>
<g font-size="74" fill="#000">
<text x="66" y="113.5">(a)</text>
<text x="853" y="110.5">(b)</text>
<text x="1596.6" y="113.5">(c)</text>
<text x="65.6" y="909.5">(d)</text>
<text x="849.9" y="906.5">(e)</text>
</g>
<g transform="translate(105.5 692.4) rotate(-90)" fill="#262626">
<text x="0" y="0" font-size="62.8">Magnification</text>
<text transform="translate(370.3 0) scale(0.89 1)" font-size="62.5" font-style="italic">M</text>
<text x="419.8" y="13.2" font-size="45" font-style="italic">T</text>
</g>
<g transform="translate(106 1487.6) rotate(-90)" fill="#262626">
<text x="0" y="0" font-size="62.8">Magnification</text>
<text transform="translate(370.3 0) scale(0.89 1)" font-size="62.5" font-style="italic">M</text>
<text x="419.8" y="13.2" font-size="45" font-style="italic">T</text>
</g>
<g fill="#262626">
<text x="1947.2" y="922" font-size="64" font-style="italic">δ</text>
<text transform="translate(1975.2 934.5) scale(1.3 1)" font-size="43">1</text>
<text x="2007.7" y="921" font-size="64">(</text>
<text x="2029.7" y="919" font-size="58">°</text>
<text x="2055.7" y="921" font-size="64">)</text>
</g>
<g fill="#262626">
<text x="460.1" y="1693.5" font-size="64" font-style="italic">δ</text>
<text transform="translate(488.1 1706) scale(1.3 1)" font-size="43">1</text>
<text x="520.6" y="1692.5" font-size="64">(</text>
<text x="542.6" y="1690.5" font-size="58">°</text>
<text x="568.6" y="1692.5" font-size="64">)</text>
</g>
<g fill="#262626">
<text x="1200.1" y="1693.5" font-size="64" font-style="italic">δ</text>
<text transform="translate(1228.1 1706) scale(1.3 1)" font-size="43">1</text>
<text x="1260.6" y="1692.5" font-size="64">(</text>
<text x="1282.6" y="1690.5" font-size="58">°</text>
<text x="1308.6" y="1692.5" font-size="64">)</text>
</g>
<rect x="1793.6" y="1205" width="520.3" height="328.4" fill="#fff" stroke="#4a4a4a" stroke-width="3"/>
<path d="M1801.8 1240.5H1898" stroke="#ff0000" stroke-width="8.5" fill="none"/>
<text x="1902.4" y="1264" font-size="57" fill="#262626">R=0.2</text>
<path d="M1801.8 1305H1898" stroke="#00ff00" stroke-dasharray="37.45 37.45" stroke-width="8.5" fill="none"/>
<text x="1902.4" y="1328.5" font-size="57" fill="#262626">R=0.4</text>
<path d="M1801.8 1369.5H1898" stroke="#0000ff" stroke-dasharray="8.8 9.86" stroke-width="8.5" fill="none"/>
<text x="1902.4" y="1393" font-size="57" fill="#262626">R=0.6</text>
<path d="M1801.8 1434H1898" stroke="#000000" stroke-dasharray="36.5 10.9 16.6 10.9" stroke-width="8.5" fill="none"/>
<text x="1902.4" y="1457.5" font-size="57" fill="#262626">R=0.8</text>
<path d="M1801.8 1498.5H1898" stroke="#00ffff" stroke-width="8.5" fill="none"/>
<text x="1902.4" y="1522" font-size="57" fill="#262626">R=1.0</text>
<path d="M2062 1240.5H2156.5" stroke="#ff00ff" stroke-dasharray="37.45 37.45" stroke-width="8.5" fill="none"/>
<text x="2167" y="1264" font-size="57" fill="#262626">R=1.2</text>
<path d="M2062 1305H2156.5" stroke="#ff0000" stroke-dasharray="8.8 9.86" stroke-width="8.5" fill="none"/>
<text x="2167" y="1328.5" font-size="57" fill="#262626">R=1.4</text>
<path d="M2062 1369.5H2156.5" stroke="#00ff00" stroke-dasharray="36.5 10.9 16.6 10.9" stroke-width="8.5" fill="none"/>
<text x="2167" y="1393" font-size="57" fill="#262626">R=1.6</text>
<path d="M2062 1434H2156.5" stroke="#0000ff" stroke-width="8.5" fill="none"/>
<text x="2167" y="1457.5" font-size="57" fill="#262626">R=1.8</text>
<path d="M2062 1498.5H2156.5" stroke="#000000" stroke-dasharray="37.45 37.45" stroke-width="8.5" fill="none"/>
<text x="2167" y="1522" font-size="57" fill="#262626">R=2.0</text>
</svg></body></html>
